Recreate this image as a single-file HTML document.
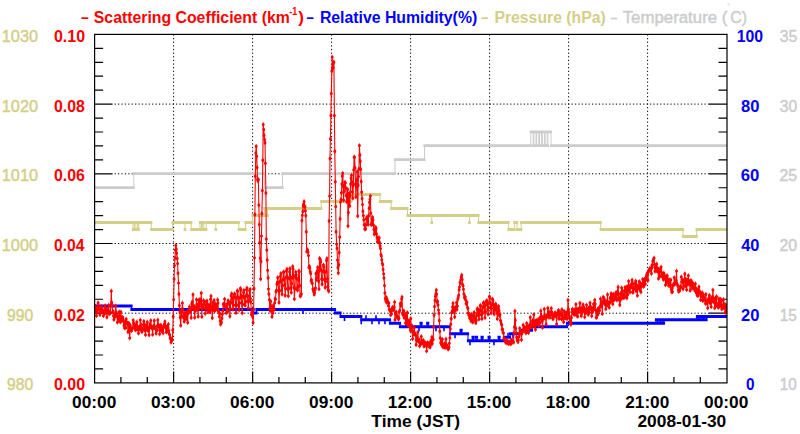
<!DOCTYPE html><html><head><meta charset="utf-8"><title>Scattering Coefficient</title><style>html,body{margin:0;padding:0;background:#fff;overflow:hidden}body{width:800px;height:434px}</style></head><body><svg width="800" height="434" viewBox="0 0 800 434" style="display:block">
<rect width="800" height="434" fill="#fff"/>
<path d="M173.60 34.4V382.9 M252.60 34.4V382.9 M331.60 34.4V382.9 M410.60 34.4V382.9 M489.60 34.4V382.9 M568.60 34.4V382.9 M647.60 34.4V382.9" stroke="#000" stroke-width="1" stroke-dasharray="1.25 2.38" fill="none"/>
<path d="M112.6 313.20H709.0 M112.6 243.50H709.0 M112.6 173.80H709.0 M112.6 104.10H709.0" stroke="#000" stroke-width="1" stroke-dasharray="1.25 2.16" stroke-dashoffset="-2" fill="none"/>
<path d="M120.93 382.9v-6 M147.27 382.9v-6 M173.60 382.9v-11.5 M199.93 382.9v-6 M226.27 382.9v-6 M252.60 382.9v-11.5 M278.93 382.9v-6 M305.27 382.9v-6 M331.60 382.9v-11.5 M357.93 382.9v-6 M384.27 382.9v-6 M410.60 382.9v-11.5 M436.93 382.9v-6 M463.27 382.9v-6 M489.60 382.9v-11.5 M515.93 382.9v-6 M542.27 382.9v-6 M568.60 382.9v-11.5 M594.93 382.9v-6 M621.27 382.9v-6 M647.60 382.9v-11.5 M673.93 382.9v-6 M700.27 382.9v-6 M94.6 368.96h8.5 M727.0 368.96h-8.5 M94.6 355.02h8.5 M727.0 355.02h-8.5 M94.6 341.08h8.5 M727.0 341.08h-8.5 M94.6 327.14h8.5 M727.0 327.14h-8.5 M94.6 313.20h18 M727.0 313.20h-18 M94.6 299.26h8.5 M727.0 299.26h-8.5 M94.6 285.32h8.5 M727.0 285.32h-8.5 M94.6 271.38h8.5 M727.0 271.38h-8.5 M94.6 257.44h8.5 M727.0 257.44h-8.5 M94.6 243.50h18 M727.0 243.50h-18 M94.6 229.56h8.5 M727.0 229.56h-8.5 M94.6 215.62h8.5 M727.0 215.62h-8.5 M94.6 201.68h8.5 M727.0 201.68h-8.5 M94.6 187.74h8.5 M727.0 187.74h-8.5 M94.6 173.80h18 M727.0 173.80h-18 M94.6 159.86h8.5 M727.0 159.86h-8.5 M94.6 145.92h8.5 M727.0 145.92h-8.5 M94.6 131.98h8.5 M727.0 131.98h-8.5 M94.6 118.04h8.5 M727.0 118.04h-8.5 M94.6 104.10h18 M727.0 104.10h-18 M94.6 90.16h8.5 M727.0 90.16h-8.5 M94.6 76.22h8.5 M727.0 76.22h-8.5 M94.6 62.28h8.5 M727.0 62.28h-8.5 M94.6 48.34h8.5 M727.0 48.34h-8.5" stroke="#000" stroke-width="1.2" fill="none"/>
<clipPath id="pc"><rect x="94.6" y="34.4" width="632.4" height="348.5"/></clipPath><g clip-path="url(#pc)"><path d="M94.00 187.54 L133.75 187.54 L133.75 173.60 L264.50 173.60 L264.50 187.54 L282.50 187.54 L282.50 173.60 L395.00 173.60 L395.00 159.66 L424.50 159.66 L424.50 145.72 L530.75 145.72 L530.75 131.78 L533.20 131.78 L533.20 145.72 L533.90 145.72 L533.90 131.78 L536.00 131.78 L536.00 145.72 L536.70 145.72 L536.70 131.78 L538.80 131.78 L538.80 145.72 L539.50 145.72 L539.50 131.78 L541.60 131.78 L541.60 145.72 L542.30 145.72 L542.30 131.78 L544.40 131.78 L544.40 145.72 L545.10 145.72 L545.10 131.78 L547.20 131.78 L547.20 145.72 L547.90 145.72 L547.90 131.78 L551.00 131.78 L551.00 145.72 L727.00 145.72" fill="none" stroke="#cccccc" stroke-width="1.0" stroke-linejoin="miter"/><path d="M92.90 187.54H134.85 M132.65 173.60H265.60 M263.40 187.54H283.60 M281.40 173.60H396.10 M393.90 159.66H425.60 M423.40 145.72H531.85 M529.65 131.78H534.30 M532.10 145.72H535.00 M532.80 131.78H537.10 M534.90 145.72H537.80 M535.60 131.78H539.90 M537.70 145.72H540.60 M538.40 131.78H542.70 M540.50 145.72H543.40 M541.20 131.78H545.50 M543.30 145.72H546.20 M544.00 131.78H548.30 M546.10 145.72H549.00 M546.80 131.78H552.10 M549.90 145.72H727.00" fill="none" stroke="#cccccc" stroke-width="2.8"/><path d="M94.00 222.49 L133.00 222.49 L133.00 229.46 L134.30 229.46 L134.30 222.49 L135.00 222.49 L135.00 229.46 L137.20 229.46 L137.20 222.49 L137.90 222.49 L137.90 229.46 L138.70 229.46 L138.70 222.49 L151.25 222.49 L151.25 229.46 L172.50 229.46 L172.50 222.49 L191.25 222.49 L191.25 229.46 L200.00 229.46 L200.00 222.49 L201.50 222.49 L201.50 229.46 L202.20 229.46 L202.20 222.49 L203.75 222.49 L203.75 229.46 L206.25 229.46 L206.25 222.49 L238.75 222.49 L238.75 229.46 L245.50 229.46 L245.50 222.49 L252.50 222.49 L252.50 215.52 L266.00 215.52 L266.00 208.55 L321.25 208.55 L321.25 201.58 L351.25 201.58 L351.25 194.61 L380.00 194.61 L380.00 201.58 L391.25 201.58 L391.25 208.55 L407.50 208.55 L407.50 215.52 L478.50 215.52 L478.50 222.49 L508.50 222.49 L508.50 229.46 L514.40 229.46 L514.40 222.49 L517.00 222.49 L517.00 229.46 L521.20 229.46 L521.20 222.49 L600.70 222.49 L600.70 229.46 L683.00 229.46 L683.00 236.43 L696.60 236.43 L696.60 229.46 L727.00 229.46" fill="none" stroke="#d4cf87" stroke-width="1.0" stroke-linejoin="miter"/><path d="M92.90 222.49H134.10 M131.90 229.46H135.40 M133.20 222.49H136.10 M133.90 229.46H138.30 M136.10 222.49H139.00 M136.80 229.46H139.80 M137.60 222.49H152.35 M150.15 229.46H173.60 M171.40 222.49H192.35 M190.15 229.46H201.10 M198.90 222.49H202.60 M200.40 229.46H203.30 M201.10 222.49H204.85 M202.65 229.46H207.35 M205.15 222.49H239.85 M237.65 229.46H246.60 M244.40 222.49H253.60 M251.40 215.52H267.10 M264.90 208.55H322.35 M320.15 201.58H352.35 M350.15 194.61H381.10 M378.90 201.58H392.35 M390.15 208.55H408.60 M406.40 215.52H479.60 M477.40 222.49H509.60 M507.40 229.46H515.50 M513.30 222.49H518.10 M515.90 229.46H522.30 M520.10 222.49H601.80 M599.60 229.46H684.10 M681.90 236.43H697.70 M695.50 229.46H727.00" fill="none" stroke="#d4cf87" stroke-width="3.0"/><path d="M185.00 222.49V230.46 M215.75 222.49V230.46 M431.75 215.52V223.49 M469.50 215.52V223.49 M264.50 215.52V209.55 M267.50 208.55V216.52" fill="none" stroke="#d4cf87" stroke-width="1"/><path d="M183.70 229.46h2.6 M214.45 229.46h2.6 M430.45 222.49h2.6 M468.20 222.49h2.6 M263.20 208.55h2.6 M266.20 215.52h2.6" fill="none" stroke="#d4cf87" stroke-width="3"/><path d="M94.00 305.93 L131.50 305.93 L131.50 309.41 L253.50 309.41 L253.50 312.90 L256.50 312.90 L256.50 309.41 L335.00 309.41 L335.00 312.90 L340.50 312.90 L340.50 316.38 L361.25 316.38 L361.25 319.87 L390.00 319.87 L390.00 323.35 L400.00 323.35 L400.00 326.84 L420.60 326.84 L420.60 323.35 L421.60 323.35 L421.60 326.84 L427.20 326.84 L427.20 323.35 L428.20 323.35 L428.20 326.84 L450.00 326.84 L450.00 333.81 L460.60 333.81 L460.60 330.32 L461.60 330.32 L461.60 333.81 L468.00 333.81 L468.00 340.78 L472.60 340.78 L472.60 337.29 L473.60 337.29 L473.60 340.78 L476.00 340.78 L476.00 337.29 L477.00 337.29 L477.00 340.78 L481.60 340.78 L481.60 337.29 L482.60 337.29 L482.60 340.78 L488.60 340.78 L488.60 337.29 L489.60 337.29 L489.60 340.78 L498.60 340.78 L498.60 337.29 L499.60 337.29 L499.60 340.78 L504.00 340.78 L504.00 337.29 L510.00 337.29 L510.00 333.81 L520.00 333.81 L520.00 330.32 L532.00 330.32 L532.00 326.84 L567.00 326.84 L567.00 323.35 L656.00 323.35 L656.00 319.87 L657.50 319.87 L657.50 323.35 L659.00 323.35 L659.00 319.87 L660.50 319.87 L660.50 323.35 L662.00 323.35 L662.00 319.87 L663.00 319.87 L663.00 323.35 L664.00 323.35 L664.00 319.87 L697.00 319.87 L697.00 316.38 L698.50 316.38 L698.50 319.87 L700.00 319.87 L700.00 316.38 L702.00 316.38 L702.00 319.87 L703.50 319.87 L703.50 316.38 L705.00 316.38 L705.00 319.87 L706.50 319.87 L706.50 316.38 L727.00 316.38" fill="none" stroke="#0000ff" stroke-width="1.0" stroke-linejoin="miter"/><path d="M92.90 305.93H132.60 M130.40 309.41H254.60 M252.40 312.90H257.60 M255.40 309.41H336.10 M333.90 312.90H341.60 M339.40 316.38H362.35 M360.15 319.87H391.10 M388.90 323.35H401.10 M398.90 326.84H421.70 M419.50 323.35H422.70 M420.50 326.84H428.30 M426.10 323.35H429.30 M427.10 326.84H451.10 M448.90 333.81H461.70 M459.50 330.32H462.70 M460.50 333.81H469.10 M466.90 340.78H473.70 M471.50 337.29H474.70 M472.50 340.78H477.10 M474.90 337.29H478.10 M475.90 340.78H482.70 M480.50 337.29H483.70 M481.50 340.78H489.70 M487.50 337.29H490.70 M488.50 340.78H499.70 M497.50 337.29H500.70 M498.50 340.78H505.10 M502.90 337.29H511.10 M508.90 333.81H521.10 M518.90 330.32H533.10 M530.90 326.84H568.10 M565.90 323.35H657.10 M654.90 319.87H658.60 M656.40 323.35H660.10 M657.90 319.87H661.60 M659.40 323.35H663.10 M660.90 319.87H664.10 M661.90 323.35H665.10 M662.90 319.87H698.10 M695.90 316.38H699.60 M697.40 319.87H701.10 M698.90 316.38H703.10 M700.90 319.87H704.60 M702.40 316.38H706.10 M703.90 319.87H707.60 M705.40 316.38H727.00" fill="none" stroke="#0000ff" stroke-width="3.0"/><path d="M303.00 309.41v4.5 M344.50 316.38v4.5 M361.25 319.87v4.5 M385.00 319.87v4.5 M419.00 326.84v4.5 M436.00 326.84v4.5 M455.00 333.81v4.5 M366.00 319.87v-4.5 M372.00 319.87v4.5 M376.00 319.87v-4.5 M379.00 319.87v4.5 M406.00 326.84v-4.5 M412.00 326.84v4.5 M444.00 326.84v4.5 M470.00 340.78v4.5 M494.00 340.78v4.5 M508.00 337.29v-4.5 M513.00 333.81v4.5" fill="none" stroke="#0000ff" stroke-width="1.6"/><path d="M94.6 305.5 95.0 307.0 95.5 309.1 95.9 310.2 96.4 315.7 96.8 307.2 97.2 312.5 97.7 308.3 98.1 302.7 98.6 309.5 99.0 307.1 99.4 308.8 99.9 314.7 100.3 312.7 100.7 311.0 101.2 309.5 101.6 306.3 102.1 308.4 102.5 310.0 102.9 311.2 103.4 315.7 103.8 312.0 104.3 311.2 104.7 313.4 105.1 305.7 105.6 308.0 106.0 312.6 106.5 310.7 106.9 317.3 107.3 311.4 107.8 309.5 108.2 311.6 108.7 305.2 109.1 314.1 109.5 312.1 110.0 312.4 110.4 313.0 110.8 305.3 111.3 291.0 111.7 302.4 112.2 305.5 112.6 311.9 113.0 311.2 113.5 316.1 113.9 319.6 114.4 316.9 114.8 317.1 115.2 313.8 115.7 306.1 116.1 312.1 116.6 313.4 117.0 316.0 117.4 322.2 117.9 316.4 118.3 318.0 118.8 319.5 119.2 311.8 119.6 315.6 120.1 321.5 120.5 322.0 120.9 312.0 121.4 320.7 121.8 317.4 122.3 318.5 122.7 317.3 123.1 319.4 123.6 321.5 124.0 325.6 124.5 327.9 124.9 322.8 125.3 321.5 125.8 327.8 126.2 319.1 126.7 322.2 127.1 323.5 127.5 323.1 128.0 331.9 128.4 323.5 128.9 323.1 129.3 330.4 129.7 338.0 130.2 325.2 130.6 327.8 131.1 328.0 131.5 330.8 131.9 329.6 132.4 328.3 132.8 327.9 133.2 320.3 133.7 322.9 134.1 324.8 134.6 327.8 135.0 326.1 135.4 330.0 135.9 325.6 136.3 324.6 136.8 321.9 137.2 329.5 137.6 326.6 138.1 328.9 138.5 333.3 139.0 328.9 139.4 326.7 139.8 329.0 140.3 320.0 140.7 326.3 141.2 330.3 141.6 324.8 142.0 331.7 142.5 329.4 142.9 329.6 143.3 328.4 143.8 321.3 144.2 323.9 144.7 328.5 145.1 330.6 145.5 334.8 146.0 325.4 146.4 326.0 146.9 328.1 147.3 322.0 147.7 330.4 148.2 327.2 148.6 330.4 149.1 335.0 149.5 327.7 149.9 324.1 150.4 325.2 150.8 320.5 151.3 327.3 151.7 327.9 152.1 327.6 152.6 334.5 153.0 327.9 153.4 325.9 153.9 327.6 154.3 320.6 154.8 327.1 155.2 327.5 155.6 328.9 156.1 333.5 156.5 330.7 157.0 330.2 157.4 325.8 157.8 319.9 158.3 324.9 158.7 327.1 159.2 325.6 159.6 334.0 160.0 330.3 160.5 329.0 160.9 324.9 161.4 330.8 161.8 330.7 162.2 327.4 162.7 329.9 163.1 333.1 163.5 326.4 164.0 326.3 164.4 324.0 164.9 321.6 165.3 326.4 165.7 327.9 166.2 331.9 166.6 331.9 167.1 326.1 167.5 331.2 167.9 327.3 168.4 324.3 168.8 330.6 169.3 334.0 169.7 334.7 170.1 338.1 170.6 338.9 171.0 342.2 171.5 341.2 171.9 338.7 172.3 339.7 172.8 330.1 173.2 316.6 173.6 299.6 174.1 279.1 174.5 265.6 175.0 258.0 175.4 250.1 175.8 245.3 176.3 249.3 176.7 253.3 177.2 258.4 177.6 263.4 178.0 273.3 178.5 282.9 178.9 293.9 179.4 305.6 179.8 311.7 180.2 317.4 180.7 325.4 181.1 315.5 181.6 312.1 182.0 309.6 182.4 302.9 182.9 309.9 183.3 317.6 183.8 315.6 184.2 321.4 184.6 313.1 185.1 312.9 185.5 318.8 185.9 314.0 186.4 318.7 186.8 311.7 187.3 311.9 187.7 322.6 188.1 313.2 188.6 310.5 189.0 312.0 189.5 306.7 189.9 310.0 190.3 311.0 190.8 309.4 191.2 317.7 191.7 304.0 192.1 302.0 192.5 307.6 193.0 294.5 193.4 307.5 193.9 309.6 194.3 306.3 194.7 317.5 195.2 309.7 195.6 310.5 196.0 308.2 196.5 299.6 196.9 304.4 197.4 309.8 197.8 307.5 198.2 316.5 198.7 300.3 199.1 308.8 199.6 306.4 200.0 299.3 200.4 303.2 200.9 301.5 201.3 293.0 201.8 316.8 202.2 304.9 202.6 308.0 203.1 307.4 203.5 300.4 204.0 303.9 204.4 304.5 204.8 301.6 205.3 313.5 205.7 308.6 206.1 304.7 206.6 306.5 207.0 300.8 207.5 304.0 207.9 311.4 208.3 306.7 208.8 311.9 209.2 305.0 209.7 311.8 210.1 308.2 210.5 299.2 211.0 296.0 211.4 307.6 211.9 309.5 212.3 317.9 212.7 302.7 213.2 307.4 213.6 305.5 214.1 300.2 214.5 310.9 214.9 310.0 215.4 303.7 215.8 309.6 216.2 305.4 216.7 306.4 217.1 308.4 217.6 299.7 218.0 303.0 218.4 310.9 218.9 311.9 219.3 316.5 219.8 313.5 220.2 321.1 220.6 324.3 221.1 322.0 221.5 322.4 222.0 318.2 222.4 314.3 222.8 310.9 223.3 304.0 223.7 304.5 224.2 306.3 224.6 299.1 225.0 305.3 225.5 305.5 225.9 306.2 226.3 312.9 226.8 310.7 227.2 304.1 227.7 311.4 228.1 300.6 228.5 302.4 229.0 302.3 229.4 303.8 229.9 316.3 230.3 308.5 230.7 302.2 231.2 295.7 231.6 293.6 232.1 299.0 232.5 303.3 232.9 309.2 233.4 304.9 233.8 297.3 234.3 294.4 234.7 293.7 235.1 297.1 235.6 304.9 236.0 312.7 236.5 304.5 236.9 298.1 237.3 290.8 237.8 290.9 238.2 297.6 238.6 306.0 239.1 310.0 239.5 303.3 240.0 297.8 240.4 288.3 240.8 289.7 241.3 296.3 241.7 302.4 242.2 313.0 242.6 304.6 243.0 296.6 243.5 292.2 243.9 290.2 244.4 297.7 244.8 303.8 245.2 305.4 245.7 301.8 246.1 295.7 246.6 289.4 247.0 287.9 247.4 295.8 247.9 301.0 248.3 308.1 248.7 301.0 249.2 296.1 249.6 290.6 250.1 289.2 250.5 298.6 250.9 302.1 251.4 314.5 251.8 312.6 252.3 313.9 252.7 317.1 253.1 322.8 253.6 309.3 254.0 288.6 254.5 257.7 254.9 214.6 255.3 176.3 255.8 153.1 256.2 146.2 256.7 156.2 257.1 167.4 257.5 179.4 258.0 181.1 258.4 179.5 258.8 204.9 259.3 224.6 259.7 242.5 260.2 258.3 260.6 279.0 261.0 261.2 261.5 235.9 261.9 213.5 262.4 190.6 262.8 160.2 263.2 124.5 263.7 129.6 264.1 135.3 264.6 139.5 265.0 142.7 265.4 163.3 265.9 193.0 266.3 238.9 266.8 249.9 267.2 260.0 267.6 270.2 268.1 277.7 268.5 289.0 268.9 294.1 269.4 299.8 269.8 308.2 270.3 311.0 270.7 301.2 271.1 306.6 271.6 306.6 272.0 316.7 272.5 310.5 272.9 313.1 273.3 305.4 273.8 308.0 274.2 309.5 274.7 302.7 275.1 298.4 275.5 299.3 276.0 291.5 276.4 290.6 276.9 284.1 277.3 282.3 277.7 277.5 278.2 283.1 278.6 290.3 279.0 302.5 279.5 290.9 279.9 281.4 280.4 276.3 280.8 273.4 281.2 281.4 281.7 290.1 282.1 294.3 282.6 285.8 283.0 279.4 283.4 272.1 283.9 272.0 284.3 279.7 284.8 284.5 285.2 295.5 285.6 288.4 286.1 277.2 286.5 270.8 287.0 269.0 287.4 277.1 287.8 288.9 288.3 296.1 288.7 288.6 289.2 278.6 289.6 271.7 290.0 268.4 290.5 276.8 290.9 287.9 291.3 292.4 291.8 283.4 292.2 277.9 292.7 266.5 293.1 268.9 293.5 275.2 294.0 287.2 294.4 298.9 294.9 288.7 295.3 277.2 295.7 272.0 296.2 274.8 296.6 278.0 297.1 288.5 297.5 290.3 297.9 287.1 298.4 279.9 298.8 270.9 299.3 271.5 299.7 285.4 300.1 296.0 300.6 295.9 301.0 294.9 301.4 294.0 301.9 220.4 302.3 215.3 302.8 211.4 303.2 205.7 303.6 203.9 304.1 201.4 304.5 206.6 305.0 206.4 305.4 210.8 305.8 215.6 306.3 231.8 306.7 251.4 307.2 250.4 307.6 249.8 308.0 251.9 308.5 255.5 308.9 267.5 309.4 266.3 309.8 267.9 310.2 271.6 310.7 273.6 311.1 280.8 311.5 279.8 312.0 282.9 312.4 283.2 312.9 289.0 313.3 290.4 313.7 291.7 314.2 294.4 314.6 292.7 315.1 289.5 315.5 288.1 315.9 273.4 316.4 279.6 316.8 277.7 317.3 270.8 317.7 267.3 318.1 271.9 318.6 281.3 319.0 289.0 319.5 258.4 319.9 269.7 320.3 259.4 320.8 261.4 321.2 270.2 321.6 279.1 322.1 284.2 322.5 279.2 323.0 271.4 323.4 265.0 323.8 267.0 324.3 271.4 324.7 279.8 325.2 287.6 325.6 281.4 326.0 271.8 326.5 260.4 326.9 258.4 327.4 278.7 327.8 286.5 328.2 290.0 328.7 291.3 329.1 221.0 329.6 195.9 330.0 158.6 330.4 138.7 330.9 115.5 331.3 93.4 331.8 71.1 332.2 57.0 332.6 68.7 333.1 67.6 333.5 62.9 333.9 62.0 334.4 115.5 334.8 151.3 335.3 181.7 335.7 206.5 336.1 231.8 336.6 244.1 337.0 248.2 337.5 260.0 337.9 267.5 338.3 273.0 338.8 264.8 339.2 252.5 339.7 237.1 340.1 218.8 340.5 202.1 341.0 199.6 341.4 192.8 341.9 184.1 342.3 175.9 342.7 173.3 343.2 186.2 343.6 200.3 344.0 191.3 344.5 185.2 344.9 182.2 345.4 182.8 345.8 188.1 346.2 195.4 346.7 201.8 347.1 196.3 347.6 189.2 348.0 226.0 348.4 212.4 348.9 194.3 349.3 192.9 349.8 205.9 350.2 195.5 350.6 184.0 351.1 178.3 351.5 175.3 352.0 182.3 352.4 191.7 352.8 198.2 353.3 185.2 353.7 169.7 354.1 156.9 354.6 157.3 355.0 167.8 355.5 183.7 355.9 196.9 356.3 186.8 356.8 179.8 357.2 171.4 357.7 216.0 358.1 185.3 358.5 176.6 359.0 168.7 359.4 145.6 359.9 155.1 360.3 161.2 360.7 169.3 361.2 181.5 361.6 191.9 362.1 198.6 362.5 204.6 362.9 211.3 363.4 215.6 363.8 219.7 364.2 224.8 364.7 229.1 365.1 228.4 365.6 228.9 366.0 224.7 366.4 218.6 366.9 217.0 367.3 218.4 367.8 221.8 368.2 224.4 368.6 215.8 369.1 208.2 369.5 202.3 370.0 199.3 370.4 196.0 370.8 213.2 371.3 224.8 371.7 223.0 372.2 219.1 372.6 217.2 373.0 219.9 373.5 225.1 373.9 229.5 374.3 234.2 374.8 232.9 375.2 230.1 375.7 227.3 376.1 228.6 376.5 233.7 377.0 237.3 377.4 241.7 377.9 239.6 378.3 238.0 378.7 242.4 379.2 237.7 379.6 242.4 380.1 246.1 380.5 248.5 380.9 254.6 381.4 256.0 381.8 259.7 382.3 263.5 382.7 264.4 383.1 269.6 383.6 273.7 384.0 277.9 384.5 285.4 384.9 293.1 385.3 298.6 385.8 300.9 386.2 297.3 386.6 302.3 387.1 299.2 387.5 301.5 388.0 302.0 388.4 305.8 388.8 303.1 389.3 309.6 389.7 310.2 390.2 310.7 390.6 314.9 391.0 311.9 391.5 313.9 391.9 308.9 392.4 307.4 392.8 309.9 393.2 309.3 393.7 309.4 394.1 306.9 394.6 302.0 395.0 319.8 395.4 312.9 395.9 314.6 396.3 311.9 396.7 316.9 397.2 316.7 397.6 316.4 398.1 316.9 398.5 319.3 398.9 318.3 399.4 311.4 399.8 310.4 400.3 303.4 400.7 305.9 401.1 304.0 401.6 299.0 402.0 297.0 402.5 313.2 402.9 314.8 403.3 314.3 403.8 310.8 404.2 317.7 404.7 314.5 405.1 314.1 405.5 322.9 406.0 315.7 406.4 319.5 406.8 323.4 407.3 312.5 407.7 322.4 408.2 325.6 408.6 322.8 409.0 320.6 409.5 326.2 409.9 326.8 410.4 330.3 410.8 318.4 411.2 328.1 411.7 325.3 412.1 330.9 412.6 338.8 413.0 331.3 413.4 334.4 413.9 332.6 414.3 327.5 414.8 333.2 415.2 334.8 415.6 334.7 416.1 344.8 416.5 339.7 416.9 336.9 417.4 339.4 417.8 332.3 418.3 341.4 418.7 340.7 419.1 339.5 419.6 346.1 420.0 342.8 420.5 344.2 420.9 343.2 421.3 336.5 421.8 343.4 422.2 341.0 422.7 342.9 423.1 340.7 423.5 340.5 424.0 346.3 424.4 343.1 424.9 345.8 425.3 342.8 425.7 344.0 426.2 344.2 426.6 351.0 427.0 345.4 427.5 342.6 427.9 345.1 428.4 344.1 428.8 343.6 429.2 346.6 429.7 343.8 430.1 347.2 430.6 341.9 431.0 340.6 431.4 344.3 431.9 336.9 432.3 343.6 432.8 339.7 433.2 339.4 433.6 326.9 434.1 315.1 434.5 306.5 435.0 300.3 435.4 296.2 435.8 293.8 436.3 290.0 436.7 294.1 437.1 302.3 437.6 301.3 438.0 305.1 438.5 310.1 438.9 313.2 439.3 320.5 439.8 331.2 440.2 338.0 440.7 342.7 441.1 341.8 441.5 344.8 442.0 345.1 442.4 339.3 442.9 346.9 443.3 346.2 443.7 345.0 444.2 346.8 444.6 343.5 445.1 347.8 445.5 346.6 445.9 339.0 446.4 344.7 446.8 345.0 447.3 347.1 447.7 348.6 448.1 348.6 448.6 349.0 449.0 347.2 449.4 343.2 449.9 337.8 450.3 328.8 450.8 324.2 451.2 318.8 451.6 312.8 452.1 311.2 452.5 307.1 453.0 303.2 453.4 309.6 453.8 312.0 454.3 307.8 454.7 317.0 455.2 309.6 455.6 310.0 456.0 307.0 456.5 302.5 456.9 309.5 457.4 305.9 457.8 299.1 458.2 297.6 458.7 295.2 459.1 289.8 459.5 287.1 460.0 282.3 460.4 283.0 460.9 279.5 461.3 277.1 461.7 275.0 462.2 279.5 462.6 284.7 463.1 285.7 463.5 289.2 463.9 294.0 464.4 297.6 464.8 298.3 465.3 296.7 465.7 299.7 466.1 303.5 466.6 304.1 467.0 302.3 467.5 307.4 467.9 308.4 468.3 312.9 468.8 314.9 469.2 314.3 469.6 317.9 470.1 316.3 470.5 318.8 471.0 321.1 471.4 314.3 471.8 316.1 472.3 321.2 472.7 322.2 473.2 319.2 473.6 316.0 474.0 312.5 474.5 312.9 474.9 317.7 475.4 321.1 475.8 322.9 476.2 320.5 476.7 315.6 477.1 309.2 477.6 308.6 478.0 312.1 478.4 314.9 478.9 319.3 479.3 314.9 479.7 310.6 480.2 305.6 480.6 305.6 481.1 310.8 481.5 314.4 481.9 318.8 482.4 313.5 482.8 307.6 483.3 303.1 483.7 302.6 484.1 306.8 484.6 311.2 485.0 317.7 485.5 311.8 485.9 304.8 486.3 301.3 486.8 300.4 487.2 303.6 487.7 309.3 488.1 314.2 488.5 307.9 489.0 303.0 489.4 296.5 489.9 297.6 490.3 303.0 490.7 307.4 491.2 313.0 491.6 308.6 492.0 305.0 492.5 299.1 492.9 300.4 493.4 304.4 493.8 311.0 494.2 314.0 494.7 309.9 495.1 306.3 495.6 303.9 496.0 304.7 496.4 308.1 496.9 312.2 497.3 318.8 497.8 313.8 498.2 308.5 498.6 306.2 499.1 310.7 499.5 315.8 500.0 314.5 500.4 320.5 500.8 321.3 501.3 323.7 501.7 324.9 502.1 329.4 502.6 329.3 503.0 332.4 503.5 333.1 503.9 338.3 504.3 339.3 504.8 340.3 505.2 339.9 505.7 342.6 506.1 341.0 506.5 341.5 507.0 343.0 507.4 341.1 507.9 341.2 508.3 343.4 508.7 343.3 509.2 343.1 509.6 341.9 510.1 343.2 510.5 341.4 510.9 344.0 511.4 340.1 511.8 341.4 512.2 340.1 512.7 342.1 513.1 341.5 513.6 342.3 514.0 332.7 514.4 326.9 514.9 311.0 515.3 320.3 515.8 328.5 516.2 333.1 516.6 337.3 517.1 339.7 517.5 340.8 518.0 341.9 518.4 340.1 518.8 336.8 519.3 333.9 519.7 328.3 520.2 330.7 520.6 333.0 521.0 333.2 521.5 339.7 521.9 333.5 522.3 331.8 522.8 330.8 523.2 324.9 523.7 330.5 524.1 330.9 524.5 328.6 525.0 327.3 525.4 329.1 525.9 333.1 526.3 330.9 526.7 323.3 527.2 327.5 527.6 326.7 528.1 329.4 528.5 332.8 528.9 328.8 529.4 325.0 529.8 327.6 530.3 317.2 530.7 325.7 531.1 327.4 531.6 324.8 532.0 326.6 532.4 321.3 532.9 320.0 533.3 324.7 533.8 314.6 534.2 322.8 534.6 326.4 535.1 321.9 535.5 329.5 536.0 320.6 536.4 322.6 536.8 320.4 537.3 324.6 537.7 320.9 538.2 319.4 538.6 321.5 539.0 325.7 539.5 318.8 539.9 323.0 540.4 317.3 540.8 310.7 541.2 315.5 541.7 319.0 542.1 321.0 542.5 327.4 543.0 318.3 543.4 317.0 543.9 318.4 544.3 309.0 544.7 317.4 545.2 315.9 545.6 317.1 546.1 324.3 546.5 316.0 546.9 316.8 547.4 314.4 547.8 307.9 548.3 313.7 548.7 317.2 549.1 311.7 549.6 315.6 550.0 317.5 550.5 313.5 550.9 312.6 551.3 308.2 551.8 312.0 552.2 315.2 552.7 318.2 553.1 318.9 553.5 316.9 554.0 316.3 554.4 313.4 554.8 315.6 555.3 312.7 555.7 315.6 556.2 316.4 556.6 324.1 557.0 314.7 557.5 312.7 557.9 312.3 558.4 310.3 558.8 318.5 559.2 318.4 559.7 311.8 560.1 314.5 560.6 314.6 561.0 313.8 561.4 319.0 561.9 309.4 562.3 314.4 562.8 318.4 563.2 318.8 563.6 322.0 564.1 311.3 564.5 317.5 564.9 317.7 565.4 313.1 565.8 317.9 566.3 317.6 566.7 313.4 567.1 318.9 567.6 311.2 568.0 300.0 568.5 309.2 568.9 312.5 569.3 316.1 569.8 318.0 570.2 320.9 570.7 324.1 571.1 324.3 571.5 317.7 572.0 311.8 572.4 308.9 572.9 311.6 573.3 314.1 573.7 310.9 574.2 309.8 574.6 314.7 575.0 309.8 575.5 313.7 575.9 304.3 576.4 315.1 576.8 309.8 577.2 309.0 577.7 316.4 578.1 312.0 578.6 309.4 579.0 309.1 579.4 308.3 579.9 303.0 580.3 309.0 580.8 312.1 581.2 316.0 581.6 307.9 582.1 313.3 582.5 311.8 583.0 304.5 583.4 310.5 583.8 307.4 584.3 308.4 584.7 317.0 585.1 309.6 585.6 312.2 586.0 312.7 586.5 305.1 586.9 311.3 587.3 308.9 587.8 311.0 588.2 314.6 588.7 308.7 589.1 307.4 589.5 312.5 590.0 302.8 590.4 306.4 590.9 307.8 591.3 309.4 591.7 316.1 592.2 308.3 592.6 311.7 593.1 309.4 593.5 304.0 593.9 307.7 594.4 308.7 594.8 300.0 595.2 304.1 595.7 310.3 596.1 317.4 596.6 317.4 597.0 310.2 597.4 312.4 597.9 314.6 598.3 308.2 598.8 309.5 599.2 310.5 599.6 310.6 600.1 306.5 600.5 298.7 601.0 306.4 601.4 302.7 601.8 301.7 602.3 313.7 602.7 303.0 603.2 297.0 603.6 302.7 604.0 298.2 604.5 301.6 604.9 300.7 605.4 305.0 605.8 309.0 606.2 302.4 606.7 301.2 607.1 305.5 607.5 294.5 608.0 304.2 608.4 303.4 608.9 302.3 609.3 307.4 609.7 303.0 610.2 298.1 610.6 297.2 611.1 293.4 611.5 300.9 611.9 295.6 612.4 298.5 612.8 304.0 613.3 294.1 613.7 300.2 614.1 299.7 614.6 298.1 615.0 297.2 615.5 294.4 615.9 292.6 616.3 297.9 616.8 300.1 617.2 294.0 617.6 291.2 618.1 287.0 618.5 294.3 619.0 297.5 619.4 300.0 619.8 305.0 620.3 300.1 620.7 293.1 621.2 293.9 621.6 287.8 622.0 297.9 622.5 290.5 622.9 295.5 623.4 295.9 623.8 297.9 624.2 293.5 624.7 291.3 625.1 287.3 625.6 289.4 626.0 296.8 626.4 287.6 626.9 298.1 627.3 286.5 627.7 294.7 628.2 290.1 628.6 281.3 629.1 289.1 629.5 288.9 629.9 292.3 630.4 285.3 630.8 287.6 631.3 286.5 631.7 283.8 632.1 280.0 632.6 291.8 633.0 292.4 633.5 288.9 633.9 283.5 634.3 288.7 634.8 288.2 635.2 287.4 635.7 280.9 636.1 291.0 636.5 284.5 637.0 286.9 637.4 295.4 637.8 288.0 638.3 287.5 638.7 286.2 639.2 281.5 639.6 287.5 640.0 290.1 640.5 283.0 640.9 291.9 641.4 286.1 641.8 285.8 642.2 284.9 642.7 279.3 643.1 280.2 643.6 286.6 644.0 284.8 644.4 279.3 644.9 284.0 645.3 284.0 645.8 277.4 646.2 279.4 646.6 275.0 647.1 273.3 647.5 274.6 648.0 280.3 648.4 271.2 648.8 270.5 649.3 270.4 649.7 268.4 650.1 270.3 650.6 269.0 651.0 268.7 651.5 273.6 651.9 265.2 652.3 267.2 652.8 261.2 653.2 259.7 653.7 259.2 654.1 258.0 654.5 264.6 655.0 271.3 655.4 267.8 655.9 265.1 656.3 270.5 656.7 263.9 657.2 271.1 657.6 268.2 658.1 271.4 658.5 278.5 658.9 269.1 659.4 270.6 659.8 276.4 660.2 270.3 660.7 269.7 661.1 267.0 661.6 272.6 662.0 274.7 662.4 276.7 662.9 275.1 663.3 279.5 663.8 273.0 664.2 276.5 664.6 278.5 665.1 277.3 665.5 284.9 666.0 275.7 666.4 283.1 666.8 277.6 667.3 275.7 667.7 281.2 668.2 282.2 668.6 285.4 669.0 279.4 669.5 285.1 669.9 285.7 670.3 285.2 670.8 279.8 671.2 289.3 671.7 292.0 672.1 287.9 672.5 291.7 673.0 284.7 673.4 285.0 673.9 284.3 674.3 277.6 674.7 284.3 675.2 283.3 675.6 282.4 676.1 280.5 676.5 271.0 676.9 283.2 677.4 284.5 677.8 285.9 678.3 290.1 678.7 291.6 679.1 289.8 679.6 290.7 680.0 288.2 680.4 286.3 680.9 287.0 681.3 276.8 681.8 281.7 682.2 279.4 682.6 281.4 683.1 289.0 683.5 280.6 684.0 286.2 684.4 280.4 684.8 273.7 685.3 279.2 685.7 286.0 686.2 279.5 686.6 289.7 687.0 283.6 687.5 279.9 687.9 284.4 688.4 275.6 688.8 280.7 689.2 281.6 689.7 283.9 690.1 290.4 690.5 281.9 691.0 280.4 691.4 285.7 691.9 281.9 692.3 288.2 692.7 283.3 693.2 284.3 693.6 284.4 694.1 287.7 694.5 289.5 694.9 290.5 695.4 283.8 695.8 288.2 696.3 292.7 696.7 289.6 697.1 295.2 697.6 290.3 698.0 295.7 698.5 289.3 698.9 286.8 699.3 292.8 699.8 292.4 700.2 291.9 700.6 299.7 701.1 295.8 701.5 294.0 702.0 295.8 702.4 292.7 702.8 300.8 703.3 294.9 703.7 296.9 704.2 299.3 704.6 298.6 705.0 300.0 705.5 303.6 705.9 294.2 706.4 301.8 706.8 303.3 707.2 301.0 707.7 307.9 708.1 301.2 708.6 298.4 709.0 299.6 709.4 295.2 709.9 300.8 710.3 303.2 710.8 300.0 711.2 306.7 711.6 297.6 712.1 301.4 712.5 297.7 712.9 290.0 713.4 297.7 713.8 298.9 714.3 302.5 714.7 308.0 715.1 302.6 715.6 298.0 716.0 305.3 716.5 296.4 716.9 305.5 717.3 305.2 717.8 303.9 718.2 307.6 718.7 298.8 719.1 306.1 719.5 306.0 720.0 299.0 720.4 305.7 720.9 299.5 721.3 301.3 721.7 309.0 722.2 308.3 722.6 307.7 723.0 304.9 723.5 299.5 723.9 307.3 724.4 308.1 724.8 304.1 725.2 312.7 725.7 306.7 726.1 311.0 726.6 309.9 727.0 305.3" fill="none" stroke="#ff0000" stroke-width="1.1" stroke-linejoin="round"/><path d="M94.6 303.2v4.6 M95.0 304.7v4.6 M95.5 306.8v4.6 M95.9 307.9v4.6 M96.4 313.4v4.6 M96.8 304.9v4.6 M97.2 310.2v4.6 M97.7 306.0v4.6 M98.1 300.4v4.6 M98.6 307.2v4.6 M99.0 304.8v4.6 M99.4 306.5v4.6 M99.9 312.4v4.6 M100.3 310.4v4.6 M100.7 308.7v4.6 M101.2 307.2v4.6 M101.6 304.0v4.6 M102.1 306.1v4.6 M102.5 307.7v4.6 M102.9 308.9v4.6 M103.4 313.4v4.6 M103.8 309.7v4.6 M104.3 308.9v4.6 M104.7 311.1v4.6 M105.1 303.4v4.6 M105.6 305.7v4.6 M106.0 310.3v4.6 M106.5 308.4v4.6 M106.9 315.0v4.6 M107.3 309.1v4.6 M107.8 307.2v4.6 M108.2 309.3v4.6 M108.7 302.9v4.6 M109.1 311.8v4.6 M109.5 309.8v4.6 M110.0 310.1v4.6 M110.4 310.7v4.6 M110.8 303.0v4.6 M111.3 288.7v4.6 M111.7 300.1v4.6 M112.2 303.2v4.6 M112.6 309.6v4.6 M113.0 308.9v4.6 M113.5 313.8v4.6 M113.9 317.3v4.6 M114.4 314.6v4.6 M114.8 314.8v4.6 M115.2 311.5v4.6 M115.7 303.8v4.6 M116.1 309.8v4.6 M116.6 311.1v4.6 M117.0 313.7v4.6 M117.4 319.9v4.6 M117.9 314.1v4.6 M118.3 315.7v4.6 M118.8 317.2v4.6 M119.2 309.5v4.6 M119.6 313.3v4.6 M120.1 319.2v4.6 M120.5 319.7v4.6 M120.9 309.7v4.6 M121.4 318.4v4.6 M121.8 315.1v4.6 M122.3 316.2v4.6 M122.7 315.0v4.6 M123.1 317.1v4.6 M123.6 319.2v4.6 M124.0 323.3v4.6 M124.5 325.6v4.6 M124.9 320.5v4.6 M125.3 319.2v4.6 M125.8 325.5v4.6 M126.2 316.8v4.6 M126.7 319.9v4.6 M127.1 321.2v4.6 M127.5 320.8v4.6 M128.0 329.6v4.6 M128.4 321.2v4.6 M128.9 320.8v4.6 M129.3 328.1v4.6 M129.7 335.7v4.6 M130.2 322.9v4.6 M130.6 325.5v4.6 M131.1 325.7v4.6 M131.5 328.5v4.6 M131.9 327.3v4.6 M132.4 326.0v4.6 M132.8 325.6v4.6 M133.2 318.0v4.6 M133.7 320.6v4.6 M134.1 322.5v4.6 M134.6 325.5v4.6 M135.0 323.8v4.6 M135.4 327.7v4.6 M135.9 323.3v4.6 M136.3 322.3v4.6 M136.8 319.6v4.6 M137.2 327.2v4.6 M137.6 324.3v4.6 M138.1 326.6v4.6 M138.5 331.0v4.6 M139.0 326.6v4.6 M139.4 324.4v4.6 M139.8 326.7v4.6 M140.3 317.7v4.6 M140.7 324.0v4.6 M141.2 328.0v4.6 M141.6 322.5v4.6 M142.0 329.4v4.6 M142.5 327.1v4.6 M142.9 327.3v4.6 M143.3 326.1v4.6 M143.8 319.0v4.6 M144.2 321.6v4.6 M144.7 326.2v4.6 M145.1 328.3v4.6 M145.5 332.5v4.6 M146.0 323.1v4.6 M146.4 323.7v4.6 M146.9 325.8v4.6 M147.3 319.7v4.6 M147.7 328.1v4.6 M148.2 324.9v4.6 M148.6 328.1v4.6 M149.1 332.7v4.6 M149.5 325.4v4.6 M149.9 321.8v4.6 M150.4 322.9v4.6 M150.8 318.2v4.6 M151.3 325.0v4.6 M151.7 325.6v4.6 M152.1 325.3v4.6 M152.6 332.2v4.6 M153.0 325.6v4.6 M153.4 323.6v4.6 M153.9 325.3v4.6 M154.3 318.3v4.6 M154.8 324.8v4.6 M155.2 325.2v4.6 M155.6 326.6v4.6 M156.1 331.2v4.6 M156.5 328.4v4.6 M157.0 327.9v4.6 M157.4 323.5v4.6 M157.8 317.6v4.6 M158.3 322.6v4.6 M158.7 324.8v4.6 M159.2 323.3v4.6 M159.6 331.7v4.6 M160.0 328.0v4.6 M160.5 326.7v4.6 M160.9 322.6v4.6 M161.4 328.5v4.6 M161.8 328.4v4.6 M162.2 325.1v4.6 M162.7 327.6v4.6 M163.1 330.8v4.6 M163.5 324.1v4.6 M164.0 324.0v4.6 M164.4 321.7v4.6 M164.9 319.3v4.6 M165.3 324.1v4.6 M165.7 325.6v4.6 M166.2 329.6v4.6 M166.6 329.6v4.6 M167.1 323.8v4.6 M167.5 328.9v4.6 M167.9 325.0v4.6 M168.4 322.0v4.6 M168.8 328.3v4.6 M169.3 331.7v4.6 M169.7 332.4v4.6 M170.1 335.8v4.6 M170.6 336.6v4.6 M171.0 339.9v4.6 M171.5 338.9v4.6 M171.9 336.4v4.6 M172.3 337.4v4.6 M172.8 327.8v4.6 M173.2 314.3v4.6 M173.6 297.3v4.6 M174.1 276.8v4.6 M174.5 263.3v4.6 M175.0 255.7v4.6 M175.4 247.8v4.6 M175.8 243.0v4.6 M176.3 247.0v4.6 M176.7 251.0v4.6 M177.2 256.1v4.6 M177.6 261.1v4.6 M178.0 271.0v4.6 M178.5 280.6v4.6 M178.9 291.6v4.6 M179.4 303.3v4.6 M179.8 309.4v4.6 M180.2 315.1v4.6 M180.7 323.1v4.6 M181.1 313.2v4.6 M181.6 309.8v4.6 M182.0 307.3v4.6 M182.4 300.6v4.6 M182.9 307.6v4.6 M183.3 315.3v4.6 M183.8 313.3v4.6 M184.2 319.1v4.6 M184.6 310.8v4.6 M185.1 310.6v4.6 M185.5 316.5v4.6 M185.9 311.7v4.6 M186.4 316.4v4.6 M186.8 309.4v4.6 M187.3 309.6v4.6 M187.7 320.3v4.6 M188.1 310.9v4.6 M188.6 308.2v4.6 M189.0 309.7v4.6 M189.5 304.4v4.6 M189.9 307.7v4.6 M190.3 308.7v4.6 M190.8 307.1v4.6 M191.2 315.4v4.6 M191.7 301.7v4.6 M192.1 299.7v4.6 M192.5 305.3v4.6 M193.0 292.2v4.6 M193.4 305.2v4.6 M193.9 307.3v4.6 M194.3 304.0v4.6 M194.7 315.2v4.6 M195.2 307.4v4.6 M195.6 308.2v4.6 M196.0 305.9v4.6 M196.5 297.3v4.6 M196.9 302.1v4.6 M197.4 307.5v4.6 M197.8 305.2v4.6 M198.2 314.2v4.6 M198.7 298.0v4.6 M199.1 306.5v4.6 M199.6 304.1v4.6 M200.0 297.0v4.6 M200.4 300.9v4.6 M200.9 299.2v4.6 M201.3 290.7v4.6 M201.8 314.5v4.6 M202.2 302.6v4.6 M202.6 305.7v4.6 M203.1 305.1v4.6 M203.5 298.1v4.6 M204.0 301.6v4.6 M204.4 302.2v4.6 M204.8 299.3v4.6 M205.3 311.2v4.6 M205.7 306.3v4.6 M206.1 302.4v4.6 M206.6 304.2v4.6 M207.0 298.5v4.6 M207.5 301.7v4.6 M207.9 309.1v4.6 M208.3 304.4v4.6 M208.8 309.6v4.6 M209.2 302.7v4.6 M209.7 309.5v4.6 M210.1 305.9v4.6 M210.5 296.9v4.6 M211.0 293.7v4.6 M211.4 305.3v4.6 M211.9 307.2v4.6 M212.3 315.6v4.6 M212.7 300.4v4.6 M213.2 305.1v4.6 M213.6 303.2v4.6 M214.1 297.9v4.6 M214.5 308.6v4.6 M214.9 307.7v4.6 M215.4 301.4v4.6 M215.8 307.3v4.6 M216.2 303.1v4.6 M216.7 304.1v4.6 M217.1 306.1v4.6 M217.6 297.4v4.6 M218.0 300.7v4.6 M218.4 308.6v4.6 M218.9 309.6v4.6 M219.3 314.2v4.6 M219.8 311.2v4.6 M220.2 318.8v4.6 M220.6 322.0v4.6 M221.1 319.7v4.6 M221.5 320.1v4.6 M222.0 315.9v4.6 M222.4 312.0v4.6 M222.8 308.6v4.6 M223.3 301.7v4.6 M223.7 302.2v4.6 M224.2 304.0v4.6 M224.6 296.8v4.6 M225.0 303.0v4.6 M225.5 303.2v4.6 M225.9 303.9v4.6 M226.3 310.6v4.6 M226.8 308.4v4.6 M227.2 301.8v4.6 M227.7 309.1v4.6 M228.1 298.3v4.6 M228.5 300.1v4.6 M229.0 300.0v4.6 M229.4 301.5v4.6 M229.9 314.0v4.6 M230.3 306.2v4.6 M230.7 299.9v4.6 M231.2 293.4v4.6 M231.6 291.3v4.6 M232.1 296.7v4.6 M232.5 301.0v4.6 M232.9 306.9v4.6 M233.4 302.6v4.6 M233.8 295.0v4.6 M234.3 292.1v4.6 M234.7 291.4v4.6 M235.1 294.8v4.6 M235.6 302.6v4.6 M236.0 310.4v4.6 M236.5 302.2v4.6 M236.9 295.8v4.6 M237.3 288.5v4.6 M237.8 288.6v4.6 M238.2 295.3v4.6 M238.6 303.7v4.6 M239.1 307.7v4.6 M239.5 301.0v4.6 M240.0 295.5v4.6 M240.4 286.0v4.6 M240.8 287.4v4.6 M241.3 294.0v4.6 M241.7 300.1v4.6 M242.2 310.7v4.6 M242.6 302.3v4.6 M243.0 294.3v4.6 M243.5 289.9v4.6 M243.9 287.9v4.6 M244.4 295.4v4.6 M244.8 301.5v4.6 M245.2 303.1v4.6 M245.7 299.5v4.6 M246.1 293.4v4.6 M246.6 287.1v4.6 M247.0 285.6v4.6 M247.4 293.5v4.6 M247.9 298.7v4.6 M248.3 305.8v4.6 M248.7 298.7v4.6 M249.2 293.8v4.6 M249.6 288.3v4.6 M250.1 286.9v4.6 M250.5 296.3v4.6 M250.9 299.8v4.6 M251.4 312.2v4.6 M251.8 310.3v4.6 M252.3 311.6v4.6 M252.7 314.8v4.6 M253.1 320.5v4.6 M253.6 307.0v4.6 M254.0 286.3v4.6 M254.5 255.4v4.6 M254.9 212.3v4.6 M255.3 174.0v4.6 M255.8 150.8v4.6 M256.2 143.9v4.6 M256.7 153.9v4.6 M257.1 165.1v4.6 M257.5 177.1v4.6 M258.0 178.8v4.6 M258.4 177.2v4.6 M258.8 202.6v4.6 M259.3 222.3v4.6 M259.7 240.2v4.6 M260.2 256.0v4.6 M260.6 276.7v4.6 M261.0 258.9v4.6 M261.5 233.6v4.6 M261.9 211.2v4.6 M262.4 188.3v4.6 M262.8 157.9v4.6 M263.2 122.2v4.6 M263.7 127.3v4.6 M264.1 133.0v4.6 M264.6 137.2v4.6 M265.0 140.4v4.6 M265.4 161.0v4.6 M265.9 190.7v4.6 M266.3 236.6v4.6 M266.8 247.6v4.6 M267.2 257.7v4.6 M267.6 267.9v4.6 M268.1 275.4v4.6 M268.5 286.7v4.6 M268.9 291.8v4.6 M269.4 297.5v4.6 M269.8 305.9v4.6 M270.3 308.7v4.6 M270.7 298.9v4.6 M271.1 304.3v4.6 M271.6 304.3v4.6 M272.0 314.4v4.6 M272.5 308.2v4.6 M272.9 310.8v4.6 M273.3 303.1v4.6 M273.8 305.7v4.6 M274.2 307.2v4.6 M274.7 300.4v4.6 M275.1 296.1v4.6 M275.5 297.0v4.6 M276.0 289.2v4.6 M276.4 288.3v4.6 M276.9 281.8v4.6 M277.3 280.0v4.6 M277.7 275.2v4.6 M278.2 280.8v4.6 M278.6 288.0v4.6 M279.0 300.2v4.6 M279.5 288.6v4.6 M279.9 279.1v4.6 M280.4 274.0v4.6 M280.8 271.1v4.6 M281.2 279.1v4.6 M281.7 287.8v4.6 M282.1 292.0v4.6 M282.6 283.5v4.6 M283.0 277.1v4.6 M283.4 269.8v4.6 M283.9 269.7v4.6 M284.3 277.4v4.6 M284.8 282.2v4.6 M285.2 293.2v4.6 M285.6 286.1v4.6 M286.1 274.9v4.6 M286.5 268.5v4.6 M287.0 266.7v4.6 M287.4 274.8v4.6 M287.8 286.6v4.6 M288.3 293.8v4.6 M288.7 286.3v4.6 M289.2 276.3v4.6 M289.6 269.4v4.6 M290.0 266.1v4.6 M290.5 274.5v4.6 M290.9 285.6v4.6 M291.3 290.1v4.6 M291.8 281.1v4.6 M292.2 275.6v4.6 M292.7 264.2v4.6 M293.1 266.6v4.6 M293.5 272.9v4.6 M294.0 284.9v4.6 M294.4 296.6v4.6 M294.9 286.4v4.6 M295.3 274.9v4.6 M295.7 269.7v4.6 M296.2 272.5v4.6 M296.6 275.7v4.6 M297.1 286.2v4.6 M297.5 288.0v4.6 M297.9 284.8v4.6 M298.4 277.6v4.6 M298.8 268.6v4.6 M299.3 269.2v4.6 M299.7 283.1v4.6 M300.1 293.7v4.6 M300.6 293.6v4.6 M301.0 292.6v4.6 M301.4 291.7v4.6 M301.9 218.1v4.6 M302.3 213.0v4.6 M302.8 209.1v4.6 M303.2 203.4v4.6 M303.6 201.6v4.6 M304.1 199.1v4.6 M304.5 204.3v4.6 M305.0 204.1v4.6 M305.4 208.5v4.6 M305.8 213.3v4.6 M306.3 229.5v4.6 M306.7 249.1v4.6 M307.2 248.1v4.6 M307.6 247.5v4.6 M308.0 249.6v4.6 M308.5 253.2v4.6 M308.9 265.2v4.6 M309.4 264.0v4.6 M309.8 265.6v4.6 M310.2 269.3v4.6 M310.7 271.3v4.6 M311.1 278.5v4.6 M311.5 277.5v4.6 M312.0 280.6v4.6 M312.4 280.9v4.6 M312.9 286.7v4.6 M313.3 288.1v4.6 M313.7 289.4v4.6 M314.2 292.1v4.6 M314.6 290.4v4.6 M315.1 287.2v4.6 M315.5 285.8v4.6 M315.9 271.1v4.6 M316.4 277.3v4.6 M316.8 275.4v4.6 M317.3 268.5v4.6 M317.7 265.0v4.6 M318.1 269.6v4.6 M318.6 279.0v4.6 M319.0 286.7v4.6 M319.5 256.1v4.6 M319.9 267.4v4.6 M320.3 257.1v4.6 M320.8 259.1v4.6 M321.2 267.9v4.6 M321.6 276.8v4.6 M322.1 281.9v4.6 M322.5 276.9v4.6 M323.0 269.1v4.6 M323.4 262.7v4.6 M323.8 264.7v4.6 M324.3 269.1v4.6 M324.7 277.5v4.6 M325.2 285.3v4.6 M325.6 279.1v4.6 M326.0 269.5v4.6 M326.5 258.1v4.6 M326.9 256.1v4.6 M327.4 276.4v4.6 M327.8 284.2v4.6 M328.2 287.7v4.6 M328.7 289.0v4.6 M329.1 218.7v4.6 M329.6 193.6v4.6 M330.0 156.3v4.6 M330.4 136.4v4.6 M330.9 113.2v4.6 M331.3 91.1v4.6 M331.8 68.8v4.6 M332.2 54.7v4.6 M332.6 66.4v4.6 M333.1 65.3v4.6 M333.5 60.6v4.6 M333.9 59.7v4.6 M334.4 113.2v4.6 M334.8 149.0v4.6 M335.3 179.4v4.6 M335.7 204.2v4.6 M336.1 229.5v4.6 M336.6 241.8v4.6 M337.0 245.9v4.6 M337.5 257.7v4.6 M337.9 265.2v4.6 M338.3 270.7v4.6 M338.8 262.5v4.6 M339.2 250.2v4.6 M339.7 234.8v4.6 M340.1 216.5v4.6 M340.5 199.8v4.6 M341.0 197.3v4.6 M341.4 190.5v4.6 M341.9 181.8v4.6 M342.3 173.6v4.6 M342.7 171.0v4.6 M343.2 183.9v4.6 M343.6 198.0v4.6 M344.0 189.0v4.6 M344.5 182.9v4.6 M344.9 179.9v4.6 M345.4 180.5v4.6 M345.8 185.8v4.6 M346.2 193.1v4.6 M346.7 199.5v4.6 M347.1 194.0v4.6 M347.6 186.9v4.6 M348.0 223.7v4.6 M348.4 210.1v4.6 M348.9 192.0v4.6 M349.3 190.6v4.6 M349.8 203.6v4.6 M350.2 193.2v4.6 M350.6 181.7v4.6 M351.1 176.0v4.6 M351.5 173.0v4.6 M352.0 180.0v4.6 M352.4 189.4v4.6 M352.8 195.9v4.6 M353.3 182.9v4.6 M353.7 167.4v4.6 M354.1 154.6v4.6 M354.6 155.0v4.6 M355.0 165.5v4.6 M355.5 181.4v4.6 M355.9 194.6v4.6 M356.3 184.5v4.6 M356.8 177.5v4.6 M357.2 169.1v4.6 M357.7 213.7v4.6 M358.1 183.0v4.6 M358.5 174.3v4.6 M359.0 166.4v4.6 M359.4 143.3v4.6 M359.9 152.8v4.6 M360.3 158.9v4.6 M360.7 167.0v4.6 M361.2 179.2v4.6 M361.6 189.6v4.6 M362.1 196.3v4.6 M362.5 202.3v4.6 M362.9 209.0v4.6 M363.4 213.3v4.6 M363.8 217.4v4.6 M364.2 222.5v4.6 M364.7 226.8v4.6 M365.1 226.1v4.6 M365.6 226.6v4.6 M366.0 222.4v4.6 M366.4 216.3v4.6 M366.9 214.7v4.6 M367.3 216.1v4.6 M367.8 219.5v4.6 M368.2 222.1v4.6 M368.6 213.5v4.6 M369.1 205.9v4.6 M369.5 200.0v4.6 M370.0 197.0v4.6 M370.4 193.7v4.6 M370.8 210.9v4.6 M371.3 222.5v4.6 M371.7 220.7v4.6 M372.2 216.8v4.6 M372.6 214.9v4.6 M373.0 217.6v4.6 M373.5 222.8v4.6 M373.9 227.2v4.6 M374.3 231.9v4.6 M374.8 230.6v4.6 M375.2 227.8v4.6 M375.7 225.0v4.6 M376.1 226.3v4.6 M376.5 231.4v4.6 M377.0 235.0v4.6 M377.4 239.4v4.6 M377.9 237.3v4.6 M378.3 235.7v4.6 M378.7 240.1v4.6 M379.2 235.4v4.6 M379.6 240.1v4.6 M380.1 243.8v4.6 M380.5 246.2v4.6 M380.9 252.3v4.6 M381.4 253.7v4.6 M381.8 257.4v4.6 M382.3 261.2v4.6 M382.7 262.1v4.6 M383.1 267.3v4.6 M383.6 271.4v4.6 M384.0 275.6v4.6 M384.5 283.1v4.6 M384.9 290.8v4.6 M385.3 296.3v4.6 M385.8 298.6v4.6 M386.2 295.0v4.6 M386.6 300.0v4.6 M387.1 296.9v4.6 M387.5 299.2v4.6 M388.0 299.7v4.6 M388.4 303.5v4.6 M388.8 300.8v4.6 M389.3 307.3v4.6 M389.7 307.9v4.6 M390.2 308.4v4.6 M390.6 312.6v4.6 M391.0 309.6v4.6 M391.5 311.6v4.6 M391.9 306.6v4.6 M392.4 305.1v4.6 M392.8 307.6v4.6 M393.2 307.0v4.6 M393.7 307.1v4.6 M394.1 304.6v4.6 M394.6 299.7v4.6 M395.0 317.5v4.6 M395.4 310.6v4.6 M395.9 312.3v4.6 M396.3 309.6v4.6 M396.7 314.6v4.6 M397.2 314.4v4.6 M397.6 314.1v4.6 M398.1 314.6v4.6 M398.5 317.0v4.6 M398.9 316.0v4.6 M399.4 309.1v4.6 M399.8 308.1v4.6 M400.3 301.1v4.6 M400.7 303.6v4.6 M401.1 301.7v4.6 M401.6 296.7v4.6 M402.0 294.7v4.6 M402.5 310.9v4.6 M402.9 312.5v4.6 M403.3 312.0v4.6 M403.8 308.5v4.6 M404.2 315.4v4.6 M404.7 312.2v4.6 M405.1 311.8v4.6 M405.5 320.6v4.6 M406.0 313.4v4.6 M406.4 317.2v4.6 M406.8 321.1v4.6 M407.3 310.2v4.6 M407.7 320.1v4.6 M408.2 323.3v4.6 M408.6 320.5v4.6 M409.0 318.3v4.6 M409.5 323.9v4.6 M409.9 324.5v4.6 M410.4 328.0v4.6 M410.8 316.1v4.6 M411.2 325.8v4.6 M411.7 323.0v4.6 M412.1 328.6v4.6 M412.6 336.5v4.6 M413.0 329.0v4.6 M413.4 332.1v4.6 M413.9 330.3v4.6 M414.3 325.2v4.6 M414.8 330.9v4.6 M415.2 332.5v4.6 M415.6 332.4v4.6 M416.1 342.5v4.6 M416.5 337.4v4.6 M416.9 334.6v4.6 M417.4 337.1v4.6 M417.8 330.0v4.6 M418.3 339.1v4.6 M418.7 338.4v4.6 M419.1 337.2v4.6 M419.6 343.8v4.6 M420.0 340.5v4.6 M420.5 341.9v4.6 M420.9 340.9v4.6 M421.3 334.2v4.6 M421.8 341.1v4.6 M422.2 338.7v4.6 M422.7 340.6v4.6 M423.1 338.4v4.6 M423.5 338.2v4.6 M424.0 344.0v4.6 M424.4 340.8v4.6 M424.9 343.5v4.6 M425.3 340.5v4.6 M425.7 341.7v4.6 M426.2 341.9v4.6 M426.6 348.7v4.6 M427.0 343.1v4.6 M427.5 340.3v4.6 M427.9 342.8v4.6 M428.4 341.8v4.6 M428.8 341.3v4.6 M429.2 344.3v4.6 M429.7 341.5v4.6 M430.1 344.9v4.6 M430.6 339.6v4.6 M431.0 338.3v4.6 M431.4 342.0v4.6 M431.9 334.6v4.6 M432.3 341.3v4.6 M432.8 337.4v4.6 M433.2 337.1v4.6 M433.6 324.6v4.6 M434.1 312.8v4.6 M434.5 304.2v4.6 M435.0 298.0v4.6 M435.4 293.9v4.6 M435.8 291.5v4.6 M436.3 287.7v4.6 M436.7 291.8v4.6 M437.1 300.0v4.6 M437.6 299.0v4.6 M438.0 302.8v4.6 M438.5 307.8v4.6 M438.9 310.9v4.6 M439.3 318.2v4.6 M439.8 328.9v4.6 M440.2 335.7v4.6 M440.7 340.4v4.6 M441.1 339.5v4.6 M441.5 342.5v4.6 M442.0 342.8v4.6 M442.4 337.0v4.6 M442.9 344.6v4.6 M443.3 343.9v4.6 M443.7 342.7v4.6 M444.2 344.5v4.6 M444.6 341.2v4.6 M445.1 345.5v4.6 M445.5 344.3v4.6 M445.9 336.7v4.6 M446.4 342.4v4.6 M446.8 342.7v4.6 M447.3 344.8v4.6 M447.7 346.3v4.6 M448.1 346.3v4.6 M448.6 346.7v4.6 M449.0 344.9v4.6 M449.4 340.9v4.6 M449.9 335.5v4.6 M450.3 326.5v4.6 M450.8 321.9v4.6 M451.2 316.5v4.6 M451.6 310.5v4.6 M452.1 308.9v4.6 M452.5 304.8v4.6 M453.0 300.9v4.6 M453.4 307.3v4.6 M453.8 309.7v4.6 M454.3 305.5v4.6 M454.7 314.7v4.6 M455.2 307.3v4.6 M455.6 307.7v4.6 M456.0 304.7v4.6 M456.5 300.2v4.6 M456.9 307.2v4.6 M457.4 303.6v4.6 M457.8 296.8v4.6 M458.2 295.3v4.6 M458.7 292.9v4.6 M459.1 287.5v4.6 M459.5 284.8v4.6 M460.0 280.0v4.6 M460.4 280.7v4.6 M460.9 277.2v4.6 M461.3 274.8v4.6 M461.7 272.7v4.6 M462.2 277.2v4.6 M462.6 282.4v4.6 M463.1 283.4v4.6 M463.5 286.9v4.6 M463.9 291.7v4.6 M464.4 295.3v4.6 M464.8 296.0v4.6 M465.3 294.4v4.6 M465.7 297.4v4.6 M466.1 301.2v4.6 M466.6 301.8v4.6 M467.0 300.0v4.6 M467.5 305.1v4.6 M467.9 306.1v4.6 M468.3 310.6v4.6 M468.8 312.6v4.6 M469.2 312.0v4.6 M469.6 315.6v4.6 M470.1 314.0v4.6 M470.5 316.5v4.6 M471.0 318.8v4.6 M471.4 312.0v4.6 M471.8 313.8v4.6 M472.3 318.9v4.6 M472.7 319.9v4.6 M473.2 316.9v4.6 M473.6 313.7v4.6 M474.0 310.2v4.6 M474.5 310.6v4.6 M474.9 315.4v4.6 M475.4 318.8v4.6 M475.8 320.6v4.6 M476.2 318.2v4.6 M476.7 313.3v4.6 M477.1 306.9v4.6 M477.6 306.3v4.6 M478.0 309.8v4.6 M478.4 312.6v4.6 M478.9 317.0v4.6 M479.3 312.6v4.6 M479.7 308.3v4.6 M480.2 303.3v4.6 M480.6 303.3v4.6 M481.1 308.5v4.6 M481.5 312.1v4.6 M481.9 316.5v4.6 M482.4 311.2v4.6 M482.8 305.3v4.6 M483.3 300.8v4.6 M483.7 300.3v4.6 M484.1 304.5v4.6 M484.6 308.9v4.6 M485.0 315.4v4.6 M485.5 309.5v4.6 M485.9 302.5v4.6 M486.3 299.0v4.6 M486.8 298.1v4.6 M487.2 301.3v4.6 M487.7 307.0v4.6 M488.1 311.9v4.6 M488.5 305.6v4.6 M489.0 300.7v4.6 M489.4 294.2v4.6 M489.9 295.3v4.6 M490.3 300.7v4.6 M490.7 305.1v4.6 M491.2 310.7v4.6 M491.6 306.3v4.6 M492.0 302.7v4.6 M492.5 296.8v4.6 M492.9 298.1v4.6 M493.4 302.1v4.6 M493.8 308.7v4.6 M494.2 311.7v4.6 M494.7 307.6v4.6 M495.1 304.0v4.6 M495.6 301.6v4.6 M496.0 302.4v4.6 M496.4 305.8v4.6 M496.9 309.9v4.6 M497.3 316.5v4.6 M497.8 311.5v4.6 M498.2 306.2v4.6 M498.6 303.9v4.6 M499.1 308.4v4.6 M499.5 313.5v4.6 M500.0 312.2v4.6 M500.4 318.2v4.6 M500.8 319.0v4.6 M501.3 321.4v4.6 M501.7 322.6v4.6 M502.1 327.1v4.6 M502.6 327.0v4.6 M503.0 330.1v4.6 M503.5 330.8v4.6 M503.9 336.0v4.6 M504.3 337.0v4.6 M504.8 338.0v4.6 M505.2 337.6v4.6 M505.7 340.3v4.6 M506.1 338.7v4.6 M506.5 339.2v4.6 M507.0 340.7v4.6 M507.4 338.8v4.6 M507.9 338.9v4.6 M508.3 341.1v4.6 M508.7 341.0v4.6 M509.2 340.8v4.6 M509.6 339.6v4.6 M510.1 340.9v4.6 M510.5 339.1v4.6 M510.9 341.7v4.6 M511.4 337.8v4.6 M511.8 339.1v4.6 M512.2 337.8v4.6 M512.7 339.8v4.6 M513.1 339.2v4.6 M513.6 340.0v4.6 M514.0 330.4v4.6 M514.4 324.6v4.6 M514.9 308.7v4.6 M515.3 318.0v4.6 M515.8 326.2v4.6 M516.2 330.8v4.6 M516.6 335.0v4.6 M517.1 337.4v4.6 M517.5 338.5v4.6 M518.0 339.6v4.6 M518.4 337.8v4.6 M518.8 334.5v4.6 M519.3 331.6v4.6 M519.7 326.0v4.6 M520.2 328.4v4.6 M520.6 330.7v4.6 M521.0 330.9v4.6 M521.5 337.4v4.6 M521.9 331.2v4.6 M522.3 329.5v4.6 M522.8 328.5v4.6 M523.2 322.6v4.6 M523.7 328.2v4.6 M524.1 328.6v4.6 M524.5 326.3v4.6 M525.0 325.0v4.6 M525.4 326.8v4.6 M525.9 330.8v4.6 M526.3 328.6v4.6 M526.7 321.0v4.6 M527.2 325.2v4.6 M527.6 324.4v4.6 M528.1 327.1v4.6 M528.5 330.5v4.6 M528.9 326.5v4.6 M529.4 322.7v4.6 M529.8 325.3v4.6 M530.3 314.9v4.6 M530.7 323.4v4.6 M531.1 325.1v4.6 M531.6 322.5v4.6 M532.0 324.3v4.6 M532.4 319.0v4.6 M532.9 317.7v4.6 M533.3 322.4v4.6 M533.8 312.3v4.6 M534.2 320.5v4.6 M534.6 324.1v4.6 M535.1 319.6v4.6 M535.5 327.2v4.6 M536.0 318.3v4.6 M536.4 320.3v4.6 M536.8 318.1v4.6 M537.3 322.3v4.6 M537.7 318.6v4.6 M538.2 317.1v4.6 M538.6 319.2v4.6 M539.0 323.4v4.6 M539.5 316.5v4.6 M539.9 320.7v4.6 M540.4 315.0v4.6 M540.8 308.4v4.6 M541.2 313.2v4.6 M541.7 316.7v4.6 M542.1 318.7v4.6 M542.5 325.1v4.6 M543.0 316.0v4.6 M543.4 314.7v4.6 M543.9 316.1v4.6 M544.3 306.7v4.6 M544.7 315.1v4.6 M545.2 313.6v4.6 M545.6 314.8v4.6 M546.1 322.0v4.6 M546.5 313.7v4.6 M546.9 314.5v4.6 M547.4 312.1v4.6 M547.8 305.6v4.6 M548.3 311.4v4.6 M548.7 314.9v4.6 M549.1 309.4v4.6 M549.6 313.3v4.6 M550.0 315.2v4.6 M550.5 311.2v4.6 M550.9 310.3v4.6 M551.3 305.9v4.6 M551.8 309.7v4.6 M552.2 312.9v4.6 M552.7 315.9v4.6 M553.1 316.6v4.6 M553.5 314.6v4.6 M554.0 314.0v4.6 M554.4 311.1v4.6 M554.8 313.3v4.6 M555.3 310.4v4.6 M555.7 313.3v4.6 M556.2 314.1v4.6 M556.6 321.8v4.6 M557.0 312.4v4.6 M557.5 310.4v4.6 M557.9 310.0v4.6 M558.4 308.0v4.6 M558.8 316.2v4.6 M559.2 316.1v4.6 M559.7 309.5v4.6 M560.1 312.2v4.6 M560.6 312.3v4.6 M561.0 311.5v4.6 M561.4 316.7v4.6 M561.9 307.1v4.6 M562.3 312.1v4.6 M562.8 316.1v4.6 M563.2 316.5v4.6 M563.6 319.7v4.6 M564.1 309.0v4.6 M564.5 315.2v4.6 M564.9 315.4v4.6 M565.4 310.8v4.6 M565.8 315.6v4.6 M566.3 315.3v4.6 M566.7 311.1v4.6 M567.1 316.6v4.6 M567.6 308.9v4.6 M568.0 297.7v4.6 M568.5 306.9v4.6 M568.9 310.2v4.6 M569.3 313.8v4.6 M569.8 315.7v4.6 M570.2 318.6v4.6 M570.7 321.8v4.6 M571.1 322.0v4.6 M571.5 315.4v4.6 M572.0 309.5v4.6 M572.4 306.6v4.6 M572.9 309.3v4.6 M573.3 311.8v4.6 M573.7 308.6v4.6 M574.2 307.5v4.6 M574.6 312.4v4.6 M575.0 307.5v4.6 M575.5 311.4v4.6 M575.9 302.0v4.6 M576.4 312.8v4.6 M576.8 307.5v4.6 M577.2 306.7v4.6 M577.7 314.1v4.6 M578.1 309.7v4.6 M578.6 307.1v4.6 M579.0 306.8v4.6 M579.4 306.0v4.6 M579.9 300.7v4.6 M580.3 306.7v4.6 M580.8 309.8v4.6 M581.2 313.7v4.6 M581.6 305.6v4.6 M582.1 311.0v4.6 M582.5 309.5v4.6 M583.0 302.2v4.6 M583.4 308.2v4.6 M583.8 305.1v4.6 M584.3 306.1v4.6 M584.7 314.7v4.6 M585.1 307.3v4.6 M585.6 309.9v4.6 M586.0 310.4v4.6 M586.5 302.8v4.6 M586.9 309.0v4.6 M587.3 306.6v4.6 M587.8 308.7v4.6 M588.2 312.3v4.6 M588.7 306.4v4.6 M589.1 305.1v4.6 M589.5 310.2v4.6 M590.0 300.5v4.6 M590.4 304.1v4.6 M590.9 305.5v4.6 M591.3 307.1v4.6 M591.7 313.8v4.6 M592.2 306.0v4.6 M592.6 309.4v4.6 M593.1 307.1v4.6 M593.5 301.7v4.6 M593.9 305.4v4.6 M594.4 306.4v4.6 M594.8 297.7v4.6 M595.2 301.8v4.6 M595.7 308.0v4.6 M596.1 315.1v4.6 M596.6 315.1v4.6 M597.0 307.9v4.6 M597.4 310.1v4.6 M597.9 312.3v4.6 M598.3 305.9v4.6 M598.8 307.2v4.6 M599.2 308.2v4.6 M599.6 308.3v4.6 M600.1 304.2v4.6 M600.5 296.4v4.6 M601.0 304.1v4.6 M601.4 300.4v4.6 M601.8 299.4v4.6 M602.3 311.4v4.6 M602.7 300.7v4.6 M603.2 294.7v4.6 M603.6 300.4v4.6 M604.0 295.9v4.6 M604.5 299.3v4.6 M604.9 298.4v4.6 M605.4 302.7v4.6 M605.8 306.7v4.6 M606.2 300.1v4.6 M606.7 298.9v4.6 M607.1 303.2v4.6 M607.5 292.2v4.6 M608.0 301.9v4.6 M608.4 301.1v4.6 M608.9 300.0v4.6 M609.3 305.1v4.6 M609.7 300.7v4.6 M610.2 295.8v4.6 M610.6 294.9v4.6 M611.1 291.1v4.6 M611.5 298.6v4.6 M611.9 293.3v4.6 M612.4 296.2v4.6 M612.8 301.7v4.6 M613.3 291.8v4.6 M613.7 297.9v4.6 M614.1 297.4v4.6 M614.6 295.8v4.6 M615.0 294.9v4.6 M615.5 292.1v4.6 M615.9 290.3v4.6 M616.3 295.6v4.6 M616.8 297.8v4.6 M617.2 291.7v4.6 M617.6 288.9v4.6 M618.1 284.7v4.6 M618.5 292.0v4.6 M619.0 295.2v4.6 M619.4 297.7v4.6 M619.8 302.7v4.6 M620.3 297.8v4.6 M620.7 290.8v4.6 M621.2 291.6v4.6 M621.6 285.5v4.6 M622.0 295.6v4.6 M622.5 288.2v4.6 M622.9 293.2v4.6 M623.4 293.6v4.6 M623.8 295.6v4.6 M624.2 291.2v4.6 M624.7 289.0v4.6 M625.1 285.0v4.6 M625.6 287.1v4.6 M626.0 294.5v4.6 M626.4 285.3v4.6 M626.9 295.8v4.6 M627.3 284.2v4.6 M627.7 292.4v4.6 M628.2 287.8v4.6 M628.6 279.0v4.6 M629.1 286.8v4.6 M629.5 286.6v4.6 M629.9 290.0v4.6 M630.4 283.0v4.6 M630.8 285.3v4.6 M631.3 284.2v4.6 M631.7 281.5v4.6 M632.1 277.7v4.6 M632.6 289.5v4.6 M633.0 290.1v4.6 M633.5 286.6v4.6 M633.9 281.2v4.6 M634.3 286.4v4.6 M634.8 285.9v4.6 M635.2 285.1v4.6 M635.7 278.6v4.6 M636.1 288.7v4.6 M636.5 282.2v4.6 M637.0 284.6v4.6 M637.4 293.1v4.6 M637.8 285.7v4.6 M638.3 285.2v4.6 M638.7 283.9v4.6 M639.2 279.2v4.6 M639.6 285.2v4.6 M640.0 287.8v4.6 M640.5 280.7v4.6 M640.9 289.6v4.6 M641.4 283.8v4.6 M641.8 283.5v4.6 M642.2 282.6v4.6 M642.7 277.0v4.6 M643.1 277.9v4.6 M643.6 284.3v4.6 M644.0 282.5v4.6 M644.4 277.0v4.6 M644.9 281.7v4.6 M645.3 281.7v4.6 M645.8 275.1v4.6 M646.2 277.1v4.6 M646.6 272.7v4.6 M647.1 271.0v4.6 M647.5 272.3v4.6 M648.0 278.0v4.6 M648.4 268.9v4.6 M648.8 268.2v4.6 M649.3 268.1v4.6 M649.7 266.1v4.6 M650.1 268.0v4.6 M650.6 266.7v4.6 M651.0 266.4v4.6 M651.5 271.3v4.6 M651.9 262.9v4.6 M652.3 264.9v4.6 M652.8 258.9v4.6 M653.2 257.4v4.6 M653.7 256.9v4.6 M654.1 255.7v4.6 M654.5 262.3v4.6 M655.0 269.0v4.6 M655.4 265.5v4.6 M655.9 262.8v4.6 M656.3 268.2v4.6 M656.7 261.6v4.6 M657.2 268.8v4.6 M657.6 265.9v4.6 M658.1 269.1v4.6 M658.5 276.2v4.6 M658.9 266.8v4.6 M659.4 268.3v4.6 M659.8 274.1v4.6 M660.2 268.0v4.6 M660.7 267.4v4.6 M661.1 264.7v4.6 M661.6 270.3v4.6 M662.0 272.4v4.6 M662.4 274.4v4.6 M662.9 272.8v4.6 M663.3 277.2v4.6 M663.8 270.7v4.6 M664.2 274.2v4.6 M664.6 276.2v4.6 M665.1 275.0v4.6 M665.5 282.6v4.6 M666.0 273.4v4.6 M666.4 280.8v4.6 M666.8 275.3v4.6 M667.3 273.4v4.6 M667.7 278.9v4.6 M668.2 279.9v4.6 M668.6 283.1v4.6 M669.0 277.1v4.6 M669.5 282.8v4.6 M669.9 283.4v4.6 M670.3 282.9v4.6 M670.8 277.5v4.6 M671.2 287.0v4.6 M671.7 289.7v4.6 M672.1 285.6v4.6 M672.5 289.4v4.6 M673.0 282.4v4.6 M673.4 282.7v4.6 M673.9 282.0v4.6 M674.3 275.3v4.6 M674.7 282.0v4.6 M675.2 281.0v4.6 M675.6 280.1v4.6 M676.1 278.2v4.6 M676.5 268.7v4.6 M676.9 280.9v4.6 M677.4 282.2v4.6 M677.8 283.6v4.6 M678.3 287.8v4.6 M678.7 289.3v4.6 M679.1 287.5v4.6 M679.6 288.4v4.6 M680.0 285.9v4.6 M680.4 284.0v4.6 M680.9 284.7v4.6 M681.3 274.5v4.6 M681.8 279.4v4.6 M682.2 277.1v4.6 M682.6 279.1v4.6 M683.1 286.7v4.6 M683.5 278.3v4.6 M684.0 283.9v4.6 M684.4 278.1v4.6 M684.8 271.4v4.6 M685.3 276.9v4.6 M685.7 283.7v4.6 M686.2 277.2v4.6 M686.6 287.4v4.6 M687.0 281.3v4.6 M687.5 277.6v4.6 M687.9 282.1v4.6 M688.4 273.3v4.6 M688.8 278.4v4.6 M689.2 279.3v4.6 M689.7 281.6v4.6 M690.1 288.1v4.6 M690.5 279.6v4.6 M691.0 278.1v4.6 M691.4 283.4v4.6 M691.9 279.6v4.6 M692.3 285.9v4.6 M692.7 281.0v4.6 M693.2 282.0v4.6 M693.6 282.1v4.6 M694.1 285.4v4.6 M694.5 287.2v4.6 M694.9 288.2v4.6 M695.4 281.5v4.6 M695.8 285.9v4.6 M696.3 290.4v4.6 M696.7 287.3v4.6 M697.1 292.9v4.6 M697.6 288.0v4.6 M698.0 293.4v4.6 M698.5 287.0v4.6 M698.9 284.5v4.6 M699.3 290.5v4.6 M699.8 290.1v4.6 M700.2 289.6v4.6 M700.6 297.4v4.6 M701.1 293.5v4.6 M701.5 291.7v4.6 M702.0 293.5v4.6 M702.4 290.4v4.6 M702.8 298.5v4.6 M703.3 292.6v4.6 M703.7 294.6v4.6 M704.2 297.0v4.6 M704.6 296.3v4.6 M705.0 297.7v4.6 M705.5 301.3v4.6 M705.9 291.9v4.6 M706.4 299.5v4.6 M706.8 301.0v4.6 M707.2 298.7v4.6 M707.7 305.6v4.6 M708.1 298.9v4.6 M708.6 296.1v4.6 M709.0 297.3v4.6 M709.4 292.9v4.6 M709.9 298.5v4.6 M710.3 300.9v4.6 M710.8 297.7v4.6 M711.2 304.4v4.6 M711.6 295.3v4.6 M712.1 299.1v4.6 M712.5 295.4v4.6 M712.9 287.7v4.6 M713.4 295.4v4.6 M713.8 296.6v4.6 M714.3 300.2v4.6 M714.7 305.7v4.6 M715.1 300.3v4.6 M715.6 295.7v4.6 M716.0 303.0v4.6 M716.5 294.1v4.6 M716.9 303.2v4.6 M717.3 302.9v4.6 M717.8 301.6v4.6 M718.2 305.3v4.6 M718.7 296.5v4.6 M719.1 303.8v4.6 M719.5 303.7v4.6 M720.0 296.7v4.6 M720.4 303.4v4.6 M720.9 297.2v4.6 M721.3 299.0v4.6 M721.7 306.7v4.6 M722.2 306.0v4.6 M722.6 305.4v4.6 M723.0 302.6v4.6 M723.5 297.2v4.6 M723.9 305.0v4.6 M724.4 305.8v4.6 M724.8 301.8v4.6 M725.2 310.4v4.6 M725.7 304.4v4.6 M726.1 308.7v4.6 M726.6 307.6v4.6 M727.0 303.0v4.6" fill="none" stroke="#ff0000" stroke-width="0.8"/><path d="M94.6 305.5h0 M95.0 307.0h0 M95.5 309.1h0 M95.9 310.2h0 M96.4 315.7h0 M96.8 307.2h0 M97.2 312.5h0 M97.7 308.3h0 M98.1 302.7h0 M98.6 309.5h0 M99.0 307.1h0 M99.4 308.8h0 M99.9 314.7h0 M100.3 312.7h0 M100.7 311.0h0 M101.2 309.5h0 M101.6 306.3h0 M102.1 308.4h0 M102.5 310.0h0 M102.9 311.2h0 M103.4 315.7h0 M103.8 312.0h0 M104.3 311.2h0 M104.7 313.4h0 M105.1 305.7h0 M105.6 308.0h0 M106.0 312.6h0 M106.5 310.7h0 M106.9 317.3h0 M107.3 311.4h0 M107.8 309.5h0 M108.2 311.6h0 M108.7 305.2h0 M109.1 314.1h0 M109.5 312.1h0 M110.0 312.4h0 M110.4 313.0h0 M110.8 305.3h0 M111.3 291.0h0 M111.7 302.4h0 M112.2 305.5h0 M112.6 311.9h0 M113.0 311.2h0 M113.5 316.1h0 M113.9 319.6h0 M114.4 316.9h0 M114.8 317.1h0 M115.2 313.8h0 M115.7 306.1h0 M116.1 312.1h0 M116.6 313.4h0 M117.0 316.0h0 M117.4 322.2h0 M117.9 316.4h0 M118.3 318.0h0 M118.8 319.5h0 M119.2 311.8h0 M119.6 315.6h0 M120.1 321.5h0 M120.5 322.0h0 M120.9 312.0h0 M121.4 320.7h0 M121.8 317.4h0 M122.3 318.5h0 M122.7 317.3h0 M123.1 319.4h0 M123.6 321.5h0 M124.0 325.6h0 M124.5 327.9h0 M124.9 322.8h0 M125.3 321.5h0 M125.8 327.8h0 M126.2 319.1h0 M126.7 322.2h0 M127.1 323.5h0 M127.5 323.1h0 M128.0 331.9h0 M128.4 323.5h0 M128.9 323.1h0 M129.3 330.4h0 M129.7 338.0h0 M130.2 325.2h0 M130.6 327.8h0 M131.1 328.0h0 M131.5 330.8h0 M131.9 329.6h0 M132.4 328.3h0 M132.8 327.9h0 M133.2 320.3h0 M133.7 322.9h0 M134.1 324.8h0 M134.6 327.8h0 M135.0 326.1h0 M135.4 330.0h0 M135.9 325.6h0 M136.3 324.6h0 M136.8 321.9h0 M137.2 329.5h0 M137.6 326.6h0 M138.1 328.9h0 M138.5 333.3h0 M139.0 328.9h0 M139.4 326.7h0 M139.8 329.0h0 M140.3 320.0h0 M140.7 326.3h0 M141.2 330.3h0 M141.6 324.8h0 M142.0 331.7h0 M142.5 329.4h0 M142.9 329.6h0 M143.3 328.4h0 M143.8 321.3h0 M144.2 323.9h0 M144.7 328.5h0 M145.1 330.6h0 M145.5 334.8h0 M146.0 325.4h0 M146.4 326.0h0 M146.9 328.1h0 M147.3 322.0h0 M147.7 330.4h0 M148.2 327.2h0 M148.6 330.4h0 M149.1 335.0h0 M149.5 327.7h0 M149.9 324.1h0 M150.4 325.2h0 M150.8 320.5h0 M151.3 327.3h0 M151.7 327.9h0 M152.1 327.6h0 M152.6 334.5h0 M153.0 327.9h0 M153.4 325.9h0 M153.9 327.6h0 M154.3 320.6h0 M154.8 327.1h0 M155.2 327.5h0 M155.6 328.9h0 M156.1 333.5h0 M156.5 330.7h0 M157.0 330.2h0 M157.4 325.8h0 M157.8 319.9h0 M158.3 324.9h0 M158.7 327.1h0 M159.2 325.6h0 M159.6 334.0h0 M160.0 330.3h0 M160.5 329.0h0 M160.9 324.9h0 M161.4 330.8h0 M161.8 330.7h0 M162.2 327.4h0 M162.7 329.9h0 M163.1 333.1h0 M163.5 326.4h0 M164.0 326.3h0 M164.4 324.0h0 M164.9 321.6h0 M165.3 326.4h0 M165.7 327.9h0 M166.2 331.9h0 M166.6 331.9h0 M167.1 326.1h0 M167.5 331.2h0 M167.9 327.3h0 M168.4 324.3h0 M168.8 330.6h0 M169.3 334.0h0 M169.7 334.7h0 M170.1 338.1h0 M170.6 338.9h0 M171.0 342.2h0 M171.5 341.2h0 M171.9 338.7h0 M172.3 339.7h0 M172.8 330.1h0 M173.2 316.6h0 M173.6 299.6h0 M174.1 279.1h0 M174.5 265.6h0 M175.0 258.0h0 M175.4 250.1h0 M175.8 245.3h0 M176.3 249.3h0 M176.7 253.3h0 M177.2 258.4h0 M177.6 263.4h0 M178.0 273.3h0 M178.5 282.9h0 M178.9 293.9h0 M179.4 305.6h0 M179.8 311.7h0 M180.2 317.4h0 M180.7 325.4h0 M181.1 315.5h0 M181.6 312.1h0 M182.0 309.6h0 M182.4 302.9h0 M182.9 309.9h0 M183.3 317.6h0 M183.8 315.6h0 M184.2 321.4h0 M184.6 313.1h0 M185.1 312.9h0 M185.5 318.8h0 M185.9 314.0h0 M186.4 318.7h0 M186.8 311.7h0 M187.3 311.9h0 M187.7 322.6h0 M188.1 313.2h0 M188.6 310.5h0 M189.0 312.0h0 M189.5 306.7h0 M189.9 310.0h0 M190.3 311.0h0 M190.8 309.4h0 M191.2 317.7h0 M191.7 304.0h0 M192.1 302.0h0 M192.5 307.6h0 M193.0 294.5h0 M193.4 307.5h0 M193.9 309.6h0 M194.3 306.3h0 M194.7 317.5h0 M195.2 309.7h0 M195.6 310.5h0 M196.0 308.2h0 M196.5 299.6h0 M196.9 304.4h0 M197.4 309.8h0 M197.8 307.5h0 M198.2 316.5h0 M198.7 300.3h0 M199.1 308.8h0 M199.6 306.4h0 M200.0 299.3h0 M200.4 303.2h0 M200.9 301.5h0 M201.3 293.0h0 M201.8 316.8h0 M202.2 304.9h0 M202.6 308.0h0 M203.1 307.4h0 M203.5 300.4h0 M204.0 303.9h0 M204.4 304.5h0 M204.8 301.6h0 M205.3 313.5h0 M205.7 308.6h0 M206.1 304.7h0 M206.6 306.5h0 M207.0 300.8h0 M207.5 304.0h0 M207.9 311.4h0 M208.3 306.7h0 M208.8 311.9h0 M209.2 305.0h0 M209.7 311.8h0 M210.1 308.2h0 M210.5 299.2h0 M211.0 296.0h0 M211.4 307.6h0 M211.9 309.5h0 M212.3 317.9h0 M212.7 302.7h0 M213.2 307.4h0 M213.6 305.5h0 M214.1 300.2h0 M214.5 310.9h0 M214.9 310.0h0 M215.4 303.7h0 M215.8 309.6h0 M216.2 305.4h0 M216.7 306.4h0 M217.1 308.4h0 M217.6 299.7h0 M218.0 303.0h0 M218.4 310.9h0 M218.9 311.9h0 M219.3 316.5h0 M219.8 313.5h0 M220.2 321.1h0 M220.6 324.3h0 M221.1 322.0h0 M221.5 322.4h0 M222.0 318.2h0 M222.4 314.3h0 M222.8 310.9h0 M223.3 304.0h0 M223.7 304.5h0 M224.2 306.3h0 M224.6 299.1h0 M225.0 305.3h0 M225.5 305.5h0 M225.9 306.2h0 M226.3 312.9h0 M226.8 310.7h0 M227.2 304.1h0 M227.7 311.4h0 M228.1 300.6h0 M228.5 302.4h0 M229.0 302.3h0 M229.4 303.8h0 M229.9 316.3h0 M230.3 308.5h0 M230.7 302.2h0 M231.2 295.7h0 M231.6 293.6h0 M232.1 299.0h0 M232.5 303.3h0 M232.9 309.2h0 M233.4 304.9h0 M233.8 297.3h0 M234.3 294.4h0 M234.7 293.7h0 M235.1 297.1h0 M235.6 304.9h0 M236.0 312.7h0 M236.5 304.5h0 M236.9 298.1h0 M237.3 290.8h0 M237.8 290.9h0 M238.2 297.6h0 M238.6 306.0h0 M239.1 310.0h0 M239.5 303.3h0 M240.0 297.8h0 M240.4 288.3h0 M240.8 289.7h0 M241.3 296.3h0 M241.7 302.4h0 M242.2 313.0h0 M242.6 304.6h0 M243.0 296.6h0 M243.5 292.2h0 M243.9 290.2h0 M244.4 297.7h0 M244.8 303.8h0 M245.2 305.4h0 M245.7 301.8h0 M246.1 295.7h0 M246.6 289.4h0 M247.0 287.9h0 M247.4 295.8h0 M247.9 301.0h0 M248.3 308.1h0 M248.7 301.0h0 M249.2 296.1h0 M249.6 290.6h0 M250.1 289.2h0 M250.5 298.6h0 M250.9 302.1h0 M251.4 314.5h0 M251.8 312.6h0 M252.3 313.9h0 M252.7 317.1h0 M253.1 322.8h0 M253.6 309.3h0 M254.0 288.6h0 M254.5 257.7h0 M254.9 214.6h0 M255.3 176.3h0 M255.8 153.1h0 M256.2 146.2h0 M256.7 156.2h0 M257.1 167.4h0 M257.5 179.4h0 M258.0 181.1h0 M258.4 179.5h0 M258.8 204.9h0 M259.3 224.6h0 M259.7 242.5h0 M260.2 258.3h0 M260.6 279.0h0 M261.0 261.2h0 M261.5 235.9h0 M261.9 213.5h0 M262.4 190.6h0 M262.8 160.2h0 M263.2 124.5h0 M263.7 129.6h0 M264.1 135.3h0 M264.6 139.5h0 M265.0 142.7h0 M265.4 163.3h0 M265.9 193.0h0 M266.3 238.9h0 M266.8 249.9h0 M267.2 260.0h0 M267.6 270.2h0 M268.1 277.7h0 M268.5 289.0h0 M268.9 294.1h0 M269.4 299.8h0 M269.8 308.2h0 M270.3 311.0h0 M270.7 301.2h0 M271.1 306.6h0 M271.6 306.6h0 M272.0 316.7h0 M272.5 310.5h0 M272.9 313.1h0 M273.3 305.4h0 M273.8 308.0h0 M274.2 309.5h0 M274.7 302.7h0 M275.1 298.4h0 M275.5 299.3h0 M276.0 291.5h0 M276.4 290.6h0 M276.9 284.1h0 M277.3 282.3h0 M277.7 277.5h0 M278.2 283.1h0 M278.6 290.3h0 M279.0 302.5h0 M279.5 290.9h0 M279.9 281.4h0 M280.4 276.3h0 M280.8 273.4h0 M281.2 281.4h0 M281.7 290.1h0 M282.1 294.3h0 M282.6 285.8h0 M283.0 279.4h0 M283.4 272.1h0 M283.9 272.0h0 M284.3 279.7h0 M284.8 284.5h0 M285.2 295.5h0 M285.6 288.4h0 M286.1 277.2h0 M286.5 270.8h0 M287.0 269.0h0 M287.4 277.1h0 M287.8 288.9h0 M288.3 296.1h0 M288.7 288.6h0 M289.2 278.6h0 M289.6 271.7h0 M290.0 268.4h0 M290.5 276.8h0 M290.9 287.9h0 M291.3 292.4h0 M291.8 283.4h0 M292.2 277.9h0 M292.7 266.5h0 M293.1 268.9h0 M293.5 275.2h0 M294.0 287.2h0 M294.4 298.9h0 M294.9 288.7h0 M295.3 277.2h0 M295.7 272.0h0 M296.2 274.8h0 M296.6 278.0h0 M297.1 288.5h0 M297.5 290.3h0 M297.9 287.1h0 M298.4 279.9h0 M298.8 270.9h0 M299.3 271.5h0 M299.7 285.4h0 M300.1 296.0h0 M300.6 295.9h0 M301.0 294.9h0 M301.4 294.0h0 M301.9 220.4h0 M302.3 215.3h0 M302.8 211.4h0 M303.2 205.7h0 M303.6 203.9h0 M304.1 201.4h0 M304.5 206.6h0 M305.0 206.4h0 M305.4 210.8h0 M305.8 215.6h0 M306.3 231.8h0 M306.7 251.4h0 M307.2 250.4h0 M307.6 249.8h0 M308.0 251.9h0 M308.5 255.5h0 M308.9 267.5h0 M309.4 266.3h0 M309.8 267.9h0 M310.2 271.6h0 M310.7 273.6h0 M311.1 280.8h0 M311.5 279.8h0 M312.0 282.9h0 M312.4 283.2h0 M312.9 289.0h0 M313.3 290.4h0 M313.7 291.7h0 M314.2 294.4h0 M314.6 292.7h0 M315.1 289.5h0 M315.5 288.1h0 M315.9 273.4h0 M316.4 279.6h0 M316.8 277.7h0 M317.3 270.8h0 M317.7 267.3h0 M318.1 271.9h0 M318.6 281.3h0 M319.0 289.0h0 M319.5 258.4h0 M319.9 269.7h0 M320.3 259.4h0 M320.8 261.4h0 M321.2 270.2h0 M321.6 279.1h0 M322.1 284.2h0 M322.5 279.2h0 M323.0 271.4h0 M323.4 265.0h0 M323.8 267.0h0 M324.3 271.4h0 M324.7 279.8h0 M325.2 287.6h0 M325.6 281.4h0 M326.0 271.8h0 M326.5 260.4h0 M326.9 258.4h0 M327.4 278.7h0 M327.8 286.5h0 M328.2 290.0h0 M328.7 291.3h0 M329.1 221.0h0 M329.6 195.9h0 M330.0 158.6h0 M330.4 138.7h0 M330.9 115.5h0 M331.3 93.4h0 M331.8 71.1h0 M332.2 57.0h0 M332.6 68.7h0 M333.1 67.6h0 M333.5 62.9h0 M333.9 62.0h0 M334.4 115.5h0 M334.8 151.3h0 M335.3 181.7h0 M335.7 206.5h0 M336.1 231.8h0 M336.6 244.1h0 M337.0 248.2h0 M337.5 260.0h0 M337.9 267.5h0 M338.3 273.0h0 M338.8 264.8h0 M339.2 252.5h0 M339.7 237.1h0 M340.1 218.8h0 M340.5 202.1h0 M341.0 199.6h0 M341.4 192.8h0 M341.9 184.1h0 M342.3 175.9h0 M342.7 173.3h0 M343.2 186.2h0 M343.6 200.3h0 M344.0 191.3h0 M344.5 185.2h0 M344.9 182.2h0 M345.4 182.8h0 M345.8 188.1h0 M346.2 195.4h0 M346.7 201.8h0 M347.1 196.3h0 M347.6 189.2h0 M348.0 226.0h0 M348.4 212.4h0 M348.9 194.3h0 M349.3 192.9h0 M349.8 205.9h0 M350.2 195.5h0 M350.6 184.0h0 M351.1 178.3h0 M351.5 175.3h0 M352.0 182.3h0 M352.4 191.7h0 M352.8 198.2h0 M353.3 185.2h0 M353.7 169.7h0 M354.1 156.9h0 M354.6 157.3h0 M355.0 167.8h0 M355.5 183.7h0 M355.9 196.9h0 M356.3 186.8h0 M356.8 179.8h0 M357.2 171.4h0 M357.7 216.0h0 M358.1 185.3h0 M358.5 176.6h0 M359.0 168.7h0 M359.4 145.6h0 M359.9 155.1h0 M360.3 161.2h0 M360.7 169.3h0 M361.2 181.5h0 M361.6 191.9h0 M362.1 198.6h0 M362.5 204.6h0 M362.9 211.3h0 M363.4 215.6h0 M363.8 219.7h0 M364.2 224.8h0 M364.7 229.1h0 M365.1 228.4h0 M365.6 228.9h0 M366.0 224.7h0 M366.4 218.6h0 M366.9 217.0h0 M367.3 218.4h0 M367.8 221.8h0 M368.2 224.4h0 M368.6 215.8h0 M369.1 208.2h0 M369.5 202.3h0 M370.0 199.3h0 M370.4 196.0h0 M370.8 213.2h0 M371.3 224.8h0 M371.7 223.0h0 M372.2 219.1h0 M372.6 217.2h0 M373.0 219.9h0 M373.5 225.1h0 M373.9 229.5h0 M374.3 234.2h0 M374.8 232.9h0 M375.2 230.1h0 M375.7 227.3h0 M376.1 228.6h0 M376.5 233.7h0 M377.0 237.3h0 M377.4 241.7h0 M377.9 239.6h0 M378.3 238.0h0 M378.7 242.4h0 M379.2 237.7h0 M379.6 242.4h0 M380.1 246.1h0 M380.5 248.5h0 M380.9 254.6h0 M381.4 256.0h0 M381.8 259.7h0 M382.3 263.5h0 M382.7 264.4h0 M383.1 269.6h0 M383.6 273.7h0 M384.0 277.9h0 M384.5 285.4h0 M384.9 293.1h0 M385.3 298.6h0 M385.8 300.9h0 M386.2 297.3h0 M386.6 302.3h0 M387.1 299.2h0 M387.5 301.5h0 M388.0 302.0h0 M388.4 305.8h0 M388.8 303.1h0 M389.3 309.6h0 M389.7 310.2h0 M390.2 310.7h0 M390.6 314.9h0 M391.0 311.9h0 M391.5 313.9h0 M391.9 308.9h0 M392.4 307.4h0 M392.8 309.9h0 M393.2 309.3h0 M393.7 309.4h0 M394.1 306.9h0 M394.6 302.0h0 M395.0 319.8h0 M395.4 312.9h0 M395.9 314.6h0 M396.3 311.9h0 M396.7 316.9h0 M397.2 316.7h0 M397.6 316.4h0 M398.1 316.9h0 M398.5 319.3h0 M398.9 318.3h0 M399.4 311.4h0 M399.8 310.4h0 M400.3 303.4h0 M400.7 305.9h0 M401.1 304.0h0 M401.6 299.0h0 M402.0 297.0h0 M402.5 313.2h0 M402.9 314.8h0 M403.3 314.3h0 M403.8 310.8h0 M404.2 317.7h0 M404.7 314.5h0 M405.1 314.1h0 M405.5 322.9h0 M406.0 315.7h0 M406.4 319.5h0 M406.8 323.4h0 M407.3 312.5h0 M407.7 322.4h0 M408.2 325.6h0 M408.6 322.8h0 M409.0 320.6h0 M409.5 326.2h0 M409.9 326.8h0 M410.4 330.3h0 M410.8 318.4h0 M411.2 328.1h0 M411.7 325.3h0 M412.1 330.9h0 M412.6 338.8h0 M413.0 331.3h0 M413.4 334.4h0 M413.9 332.6h0 M414.3 327.5h0 M414.8 333.2h0 M415.2 334.8h0 M415.6 334.7h0 M416.1 344.8h0 M416.5 339.7h0 M416.9 336.9h0 M417.4 339.4h0 M417.8 332.3h0 M418.3 341.4h0 M418.7 340.7h0 M419.1 339.5h0 M419.6 346.1h0 M420.0 342.8h0 M420.5 344.2h0 M420.9 343.2h0 M421.3 336.5h0 M421.8 343.4h0 M422.2 341.0h0 M422.7 342.9h0 M423.1 340.7h0 M423.5 340.5h0 M424.0 346.3h0 M424.4 343.1h0 M424.9 345.8h0 M425.3 342.8h0 M425.7 344.0h0 M426.2 344.2h0 M426.6 351.0h0 M427.0 345.4h0 M427.5 342.6h0 M427.9 345.1h0 M428.4 344.1h0 M428.8 343.6h0 M429.2 346.6h0 M429.7 343.8h0 M430.1 347.2h0 M430.6 341.9h0 M431.0 340.6h0 M431.4 344.3h0 M431.9 336.9h0 M432.3 343.6h0 M432.8 339.7h0 M433.2 339.4h0 M433.6 326.9h0 M434.1 315.1h0 M434.5 306.5h0 M435.0 300.3h0 M435.4 296.2h0 M435.8 293.8h0 M436.3 290.0h0 M436.7 294.1h0 M437.1 302.3h0 M437.6 301.3h0 M438.0 305.1h0 M438.5 310.1h0 M438.9 313.2h0 M439.3 320.5h0 M439.8 331.2h0 M440.2 338.0h0 M440.7 342.7h0 M441.1 341.8h0 M441.5 344.8h0 M442.0 345.1h0 M442.4 339.3h0 M442.9 346.9h0 M443.3 346.2h0 M443.7 345.0h0 M444.2 346.8h0 M444.6 343.5h0 M445.1 347.8h0 M445.5 346.6h0 M445.9 339.0h0 M446.4 344.7h0 M446.8 345.0h0 M447.3 347.1h0 M447.7 348.6h0 M448.1 348.6h0 M448.6 349.0h0 M449.0 347.2h0 M449.4 343.2h0 M449.9 337.8h0 M450.3 328.8h0 M450.8 324.2h0 M451.2 318.8h0 M451.6 312.8h0 M452.1 311.2h0 M452.5 307.1h0 M453.0 303.2h0 M453.4 309.6h0 M453.8 312.0h0 M454.3 307.8h0 M454.7 317.0h0 M455.2 309.6h0 M455.6 310.0h0 M456.0 307.0h0 M456.5 302.5h0 M456.9 309.5h0 M457.4 305.9h0 M457.8 299.1h0 M458.2 297.6h0 M458.7 295.2h0 M459.1 289.8h0 M459.5 287.1h0 M460.0 282.3h0 M460.4 283.0h0 M460.9 279.5h0 M461.3 277.1h0 M461.7 275.0h0 M462.2 279.5h0 M462.6 284.7h0 M463.1 285.7h0 M463.5 289.2h0 M463.9 294.0h0 M464.4 297.6h0 M464.8 298.3h0 M465.3 296.7h0 M465.7 299.7h0 M466.1 303.5h0 M466.6 304.1h0 M467.0 302.3h0 M467.5 307.4h0 M467.9 308.4h0 M468.3 312.9h0 M468.8 314.9h0 M469.2 314.3h0 M469.6 317.9h0 M470.1 316.3h0 M470.5 318.8h0 M471.0 321.1h0 M471.4 314.3h0 M471.8 316.1h0 M472.3 321.2h0 M472.7 322.2h0 M473.2 319.2h0 M473.6 316.0h0 M474.0 312.5h0 M474.5 312.9h0 M474.9 317.7h0 M475.4 321.1h0 M475.8 322.9h0 M476.2 320.5h0 M476.7 315.6h0 M477.1 309.2h0 M477.6 308.6h0 M478.0 312.1h0 M478.4 314.9h0 M478.9 319.3h0 M479.3 314.9h0 M479.7 310.6h0 M480.2 305.6h0 M480.6 305.6h0 M481.1 310.8h0 M481.5 314.4h0 M481.9 318.8h0 M482.4 313.5h0 M482.8 307.6h0 M483.3 303.1h0 M483.7 302.6h0 M484.1 306.8h0 M484.6 311.2h0 M485.0 317.7h0 M485.5 311.8h0 M485.9 304.8h0 M486.3 301.3h0 M486.8 300.4h0 M487.2 303.6h0 M487.7 309.3h0 M488.1 314.2h0 M488.5 307.9h0 M489.0 303.0h0 M489.4 296.5h0 M489.9 297.6h0 M490.3 303.0h0 M490.7 307.4h0 M491.2 313.0h0 M491.6 308.6h0 M492.0 305.0h0 M492.5 299.1h0 M492.9 300.4h0 M493.4 304.4h0 M493.8 311.0h0 M494.2 314.0h0 M494.7 309.9h0 M495.1 306.3h0 M495.6 303.9h0 M496.0 304.7h0 M496.4 308.1h0 M496.9 312.2h0 M497.3 318.8h0 M497.8 313.8h0 M498.2 308.5h0 M498.6 306.2h0 M499.1 310.7h0 M499.5 315.8h0 M500.0 314.5h0 M500.4 320.5h0 M500.8 321.3h0 M501.3 323.7h0 M501.7 324.9h0 M502.1 329.4h0 M502.6 329.3h0 M503.0 332.4h0 M503.5 333.1h0 M503.9 338.3h0 M504.3 339.3h0 M504.8 340.3h0 M505.2 339.9h0 M505.7 342.6h0 M506.1 341.0h0 M506.5 341.5h0 M507.0 343.0h0 M507.4 341.1h0 M507.9 341.2h0 M508.3 343.4h0 M508.7 343.3h0 M509.2 343.1h0 M509.6 341.9h0 M510.1 343.2h0 M510.5 341.4h0 M510.9 344.0h0 M511.4 340.1h0 M511.8 341.4h0 M512.2 340.1h0 M512.7 342.1h0 M513.1 341.5h0 M513.6 342.3h0 M514.0 332.7h0 M514.4 326.9h0 M514.9 311.0h0 M515.3 320.3h0 M515.8 328.5h0 M516.2 333.1h0 M516.6 337.3h0 M517.1 339.7h0 M517.5 340.8h0 M518.0 341.9h0 M518.4 340.1h0 M518.8 336.8h0 M519.3 333.9h0 M519.7 328.3h0 M520.2 330.7h0 M520.6 333.0h0 M521.0 333.2h0 M521.5 339.7h0 M521.9 333.5h0 M522.3 331.8h0 M522.8 330.8h0 M523.2 324.9h0 M523.7 330.5h0 M524.1 330.9h0 M524.5 328.6h0 M525.0 327.3h0 M525.4 329.1h0 M525.9 333.1h0 M526.3 330.9h0 M526.7 323.3h0 M527.2 327.5h0 M527.6 326.7h0 M528.1 329.4h0 M528.5 332.8h0 M528.9 328.8h0 M529.4 325.0h0 M529.8 327.6h0 M530.3 317.2h0 M530.7 325.7h0 M531.1 327.4h0 M531.6 324.8h0 M532.0 326.6h0 M532.4 321.3h0 M532.9 320.0h0 M533.3 324.7h0 M533.8 314.6h0 M534.2 322.8h0 M534.6 326.4h0 M535.1 321.9h0 M535.5 329.5h0 M536.0 320.6h0 M536.4 322.6h0 M536.8 320.4h0 M537.3 324.6h0 M537.7 320.9h0 M538.2 319.4h0 M538.6 321.5h0 M539.0 325.7h0 M539.5 318.8h0 M539.9 323.0h0 M540.4 317.3h0 M540.8 310.7h0 M541.2 315.5h0 M541.7 319.0h0 M542.1 321.0h0 M542.5 327.4h0 M543.0 318.3h0 M543.4 317.0h0 M543.9 318.4h0 M544.3 309.0h0 M544.7 317.4h0 M545.2 315.9h0 M545.6 317.1h0 M546.1 324.3h0 M546.5 316.0h0 M546.9 316.8h0 M547.4 314.4h0 M547.8 307.9h0 M548.3 313.7h0 M548.7 317.2h0 M549.1 311.7h0 M549.6 315.6h0 M550.0 317.5h0 M550.5 313.5h0 M550.9 312.6h0 M551.3 308.2h0 M551.8 312.0h0 M552.2 315.2h0 M552.7 318.2h0 M553.1 318.9h0 M553.5 316.9h0 M554.0 316.3h0 M554.4 313.4h0 M554.8 315.6h0 M555.3 312.7h0 M555.7 315.6h0 M556.2 316.4h0 M556.6 324.1h0 M557.0 314.7h0 M557.5 312.7h0 M557.9 312.3h0 M558.4 310.3h0 M558.8 318.5h0 M559.2 318.4h0 M559.7 311.8h0 M560.1 314.5h0 M560.6 314.6h0 M561.0 313.8h0 M561.4 319.0h0 M561.9 309.4h0 M562.3 314.4h0 M562.8 318.4h0 M563.2 318.8h0 M563.6 322.0h0 M564.1 311.3h0 M564.5 317.5h0 M564.9 317.7h0 M565.4 313.1h0 M565.8 317.9h0 M566.3 317.6h0 M566.7 313.4h0 M567.1 318.9h0 M567.6 311.2h0 M568.0 300.0h0 M568.5 309.2h0 M568.9 312.5h0 M569.3 316.1h0 M569.8 318.0h0 M570.2 320.9h0 M570.7 324.1h0 M571.1 324.3h0 M571.5 317.7h0 M572.0 311.8h0 M572.4 308.9h0 M572.9 311.6h0 M573.3 314.1h0 M573.7 310.9h0 M574.2 309.8h0 M574.6 314.7h0 M575.0 309.8h0 M575.5 313.7h0 M575.9 304.3h0 M576.4 315.1h0 M576.8 309.8h0 M577.2 309.0h0 M577.7 316.4h0 M578.1 312.0h0 M578.6 309.4h0 M579.0 309.1h0 M579.4 308.3h0 M579.9 303.0h0 M580.3 309.0h0 M580.8 312.1h0 M581.2 316.0h0 M581.6 307.9h0 M582.1 313.3h0 M582.5 311.8h0 M583.0 304.5h0 M583.4 310.5h0 M583.8 307.4h0 M584.3 308.4h0 M584.7 317.0h0 M585.1 309.6h0 M585.6 312.2h0 M586.0 312.7h0 M586.5 305.1h0 M586.9 311.3h0 M587.3 308.9h0 M587.8 311.0h0 M588.2 314.6h0 M588.7 308.7h0 M589.1 307.4h0 M589.5 312.5h0 M590.0 302.8h0 M590.4 306.4h0 M590.9 307.8h0 M591.3 309.4h0 M591.7 316.1h0 M592.2 308.3h0 M592.6 311.7h0 M593.1 309.4h0 M593.5 304.0h0 M593.9 307.7h0 M594.4 308.7h0 M594.8 300.0h0 M595.2 304.1h0 M595.7 310.3h0 M596.1 317.4h0 M596.6 317.4h0 M597.0 310.2h0 M597.4 312.4h0 M597.9 314.6h0 M598.3 308.2h0 M598.8 309.5h0 M599.2 310.5h0 M599.6 310.6h0 M600.1 306.5h0 M600.5 298.7h0 M601.0 306.4h0 M601.4 302.7h0 M601.8 301.7h0 M602.3 313.7h0 M602.7 303.0h0 M603.2 297.0h0 M603.6 302.7h0 M604.0 298.2h0 M604.5 301.6h0 M604.9 300.7h0 M605.4 305.0h0 M605.8 309.0h0 M606.2 302.4h0 M606.7 301.2h0 M607.1 305.5h0 M607.5 294.5h0 M608.0 304.2h0 M608.4 303.4h0 M608.9 302.3h0 M609.3 307.4h0 M609.7 303.0h0 M610.2 298.1h0 M610.6 297.2h0 M611.1 293.4h0 M611.5 300.9h0 M611.9 295.6h0 M612.4 298.5h0 M612.8 304.0h0 M613.3 294.1h0 M613.7 300.2h0 M614.1 299.7h0 M614.6 298.1h0 M615.0 297.2h0 M615.5 294.4h0 M615.9 292.6h0 M616.3 297.9h0 M616.8 300.1h0 M617.2 294.0h0 M617.6 291.2h0 M618.1 287.0h0 M618.5 294.3h0 M619.0 297.5h0 M619.4 300.0h0 M619.8 305.0h0 M620.3 300.1h0 M620.7 293.1h0 M621.2 293.9h0 M621.6 287.8h0 M622.0 297.9h0 M622.5 290.5h0 M622.9 295.5h0 M623.4 295.9h0 M623.8 297.9h0 M624.2 293.5h0 M624.7 291.3h0 M625.1 287.3h0 M625.6 289.4h0 M626.0 296.8h0 M626.4 287.6h0 M626.9 298.1h0 M627.3 286.5h0 M627.7 294.7h0 M628.2 290.1h0 M628.6 281.3h0 M629.1 289.1h0 M629.5 288.9h0 M629.9 292.3h0 M630.4 285.3h0 M630.8 287.6h0 M631.3 286.5h0 M631.7 283.8h0 M632.1 280.0h0 M632.6 291.8h0 M633.0 292.4h0 M633.5 288.9h0 M633.9 283.5h0 M634.3 288.7h0 M634.8 288.2h0 M635.2 287.4h0 M635.7 280.9h0 M636.1 291.0h0 M636.5 284.5h0 M637.0 286.9h0 M637.4 295.4h0 M637.8 288.0h0 M638.3 287.5h0 M638.7 286.2h0 M639.2 281.5h0 M639.6 287.5h0 M640.0 290.1h0 M640.5 283.0h0 M640.9 291.9h0 M641.4 286.1h0 M641.8 285.8h0 M642.2 284.9h0 M642.7 279.3h0 M643.1 280.2h0 M643.6 286.6h0 M644.0 284.8h0 M644.4 279.3h0 M644.9 284.0h0 M645.3 284.0h0 M645.8 277.4h0 M646.2 279.4h0 M646.6 275.0h0 M647.1 273.3h0 M647.5 274.6h0 M648.0 280.3h0 M648.4 271.2h0 M648.8 270.5h0 M649.3 270.4h0 M649.7 268.4h0 M650.1 270.3h0 M650.6 269.0h0 M651.0 268.7h0 M651.5 273.6h0 M651.9 265.2h0 M652.3 267.2h0 M652.8 261.2h0 M653.2 259.7h0 M653.7 259.2h0 M654.1 258.0h0 M654.5 264.6h0 M655.0 271.3h0 M655.4 267.8h0 M655.9 265.1h0 M656.3 270.5h0 M656.7 263.9h0 M657.2 271.1h0 M657.6 268.2h0 M658.1 271.4h0 M658.5 278.5h0 M658.9 269.1h0 M659.4 270.6h0 M659.8 276.4h0 M660.2 270.3h0 M660.7 269.7h0 M661.1 267.0h0 M661.6 272.6h0 M662.0 274.7h0 M662.4 276.7h0 M662.9 275.1h0 M663.3 279.5h0 M663.8 273.0h0 M664.2 276.5h0 M664.6 278.5h0 M665.1 277.3h0 M665.5 284.9h0 M666.0 275.7h0 M666.4 283.1h0 M666.8 277.6h0 M667.3 275.7h0 M667.7 281.2h0 M668.2 282.2h0 M668.6 285.4h0 M669.0 279.4h0 M669.5 285.1h0 M669.9 285.7h0 M670.3 285.2h0 M670.8 279.8h0 M671.2 289.3h0 M671.7 292.0h0 M672.1 287.9h0 M672.5 291.7h0 M673.0 284.7h0 M673.4 285.0h0 M673.9 284.3h0 M674.3 277.6h0 M674.7 284.3h0 M675.2 283.3h0 M675.6 282.4h0 M676.1 280.5h0 M676.5 271.0h0 M676.9 283.2h0 M677.4 284.5h0 M677.8 285.9h0 M678.3 290.1h0 M678.7 291.6h0 M679.1 289.8h0 M679.6 290.7h0 M680.0 288.2h0 M680.4 286.3h0 M680.9 287.0h0 M681.3 276.8h0 M681.8 281.7h0 M682.2 279.4h0 M682.6 281.4h0 M683.1 289.0h0 M683.5 280.6h0 M684.0 286.2h0 M684.4 280.4h0 M684.8 273.7h0 M685.3 279.2h0 M685.7 286.0h0 M686.2 279.5h0 M686.6 289.7h0 M687.0 283.6h0 M687.5 279.9h0 M687.9 284.4h0 M688.4 275.6h0 M688.8 280.7h0 M689.2 281.6h0 M689.7 283.9h0 M690.1 290.4h0 M690.5 281.9h0 M691.0 280.4h0 M691.4 285.7h0 M691.9 281.9h0 M692.3 288.2h0 M692.7 283.3h0 M693.2 284.3h0 M693.6 284.4h0 M694.1 287.7h0 M694.5 289.5h0 M694.9 290.5h0 M695.4 283.8h0 M695.8 288.2h0 M696.3 292.7h0 M696.7 289.6h0 M697.1 295.2h0 M697.6 290.3h0 M698.0 295.7h0 M698.5 289.3h0 M698.9 286.8h0 M699.3 292.8h0 M699.8 292.4h0 M700.2 291.9h0 M700.6 299.7h0 M701.1 295.8h0 M701.5 294.0h0 M702.0 295.8h0 M702.4 292.7h0 M702.8 300.8h0 M703.3 294.9h0 M703.7 296.9h0 M704.2 299.3h0 M704.6 298.6h0 M705.0 300.0h0 M705.5 303.6h0 M705.9 294.2h0 M706.4 301.8h0 M706.8 303.3h0 M707.2 301.0h0 M707.7 307.9h0 M708.1 301.2h0 M708.6 298.4h0 M709.0 299.6h0 M709.4 295.2h0 M709.9 300.8h0 M710.3 303.2h0 M710.8 300.0h0 M711.2 306.7h0 M711.6 297.6h0 M712.1 301.4h0 M712.5 297.7h0 M712.9 290.0h0 M713.4 297.7h0 M713.8 298.9h0 M714.3 302.5h0 M714.7 308.0h0 M715.1 302.6h0 M715.6 298.0h0 M716.0 305.3h0 M716.5 296.4h0 M716.9 305.5h0 M717.3 305.2h0 M717.8 303.9h0 M718.2 307.6h0 M718.7 298.8h0 M719.1 306.1h0 M719.5 306.0h0 M720.0 299.0h0 M720.4 305.7h0 M720.9 299.5h0 M721.3 301.3h0 M721.7 309.0h0 M722.2 308.3h0 M722.6 307.7h0 M723.0 304.9h0 M723.5 299.5h0 M723.9 307.3h0 M724.4 308.1h0 M724.8 304.1h0 M725.2 312.7h0 M725.7 306.7h0 M726.1 311.0h0 M726.6 309.9h0 M727.0 305.3h0" fill="none" stroke="#ff0000" stroke-width="3.0" stroke-linecap="round"/></g>
<rect x="94.6" y="34.4" width="632.4" height="348.5" fill="none" stroke="#000" stroke-width="1.2"/>
<text x="72.11" y="407.50" textLength="44.14" lengthAdjust="spacingAndGlyphs" fill="#000" font-size="16.0" font-weight="bold" font-family="Liberation Sans, Arial, Helvetica, sans-serif" xml:space="preserve">00:00</text>
<text x="151.11" y="407.50" textLength="44.14" lengthAdjust="spacingAndGlyphs" fill="#000" font-size="16.0" font-weight="bold" font-family="Liberation Sans, Arial, Helvetica, sans-serif" xml:space="preserve">03:00</text>
<text x="230.11" y="407.50" textLength="44.14" lengthAdjust="spacingAndGlyphs" fill="#000" font-size="16.0" font-weight="bold" font-family="Liberation Sans, Arial, Helvetica, sans-serif" xml:space="preserve">06:00</text>
<text x="309.11" y="407.50" textLength="44.14" lengthAdjust="spacingAndGlyphs" fill="#000" font-size="16.0" font-weight="bold" font-family="Liberation Sans, Arial, Helvetica, sans-serif" xml:space="preserve">09:00</text>
<text x="387.76" y="407.50" textLength="44.50" lengthAdjust="spacingAndGlyphs" fill="#000" font-size="16.0" font-weight="bold" font-family="Liberation Sans, Arial, Helvetica, sans-serif" xml:space="preserve">12:00</text>
<text x="466.76" y="407.50" textLength="44.50" lengthAdjust="spacingAndGlyphs" fill="#000" font-size="16.0" font-weight="bold" font-family="Liberation Sans, Arial, Helvetica, sans-serif" xml:space="preserve">15:00</text>
<text x="545.76" y="407.50" textLength="44.50" lengthAdjust="spacingAndGlyphs" fill="#000" font-size="16.0" font-weight="bold" font-family="Liberation Sans, Arial, Helvetica, sans-serif" xml:space="preserve">18:00</text>
<text x="625.28" y="407.50" textLength="43.96" lengthAdjust="spacingAndGlyphs" fill="#000" font-size="16.0" font-weight="bold" font-family="Liberation Sans, Arial, Helvetica, sans-serif" xml:space="preserve">21:00</text>
<text x="704.11" y="407.50" textLength="44.14" lengthAdjust="spacingAndGlyphs" fill="#000" font-size="16.0" font-weight="bold" font-family="Liberation Sans, Arial, Helvetica, sans-serif" xml:space="preserve">00:00</text>
<text x="371.33" y="427.20" textLength="88.61" lengthAdjust="spacingAndGlyphs" fill="#000" font-size="16.0" font-weight="bold" font-family="Liberation Sans, Arial, Helvetica, sans-serif" xml:space="preserve">Time (JST)</text>
<text x="637.48" y="427.20" textLength="88.81" lengthAdjust="spacingAndGlyphs" fill="#000" font-size="16.0" font-weight="bold" font-family="Liberation Sans, Arial, Helvetica, sans-serif" xml:space="preserve">2008-01-30</text>
<text x="53.96" y="390.30" textLength="31.08" lengthAdjust="spacingAndGlyphs" fill="#ff0000" font-size="16.0" font-weight="bold" font-family="Liberation Sans, Arial, Helvetica, sans-serif" xml:space="preserve">0.00</text>
<text x="53.96" y="320.60" textLength="30.91" lengthAdjust="spacingAndGlyphs" fill="#ff0000" font-size="16.0" font-weight="bold" font-family="Liberation Sans, Arial, Helvetica, sans-serif" xml:space="preserve">0.02</text>
<text x="53.97" y="250.90" textLength="30.43" lengthAdjust="spacingAndGlyphs" fill="#ff0000" font-size="16.0" font-weight="bold" font-family="Liberation Sans, Arial, Helvetica, sans-serif" xml:space="preserve">0.04</text>
<text x="53.96" y="181.20" textLength="30.91" lengthAdjust="spacingAndGlyphs" fill="#ff0000" font-size="16.0" font-weight="bold" font-family="Liberation Sans, Arial, Helvetica, sans-serif" xml:space="preserve">0.06</text>
<text x="53.97" y="111.50" textLength="30.75" lengthAdjust="spacingAndGlyphs" fill="#ff0000" font-size="16.0" font-weight="bold" font-family="Liberation Sans, Arial, Helvetica, sans-serif" xml:space="preserve">0.08</text>
<text x="53.96" y="41.80" textLength="31.08" lengthAdjust="spacingAndGlyphs" fill="#ff0000" font-size="16.0" font-weight="bold" font-family="Liberation Sans, Arial, Helvetica, sans-serif" xml:space="preserve">0.10</text>
<text x="7.02" y="390.30" textLength="26.19" lengthAdjust="spacingAndGlyphs" fill="#d4cf87" stroke="#d4cf87" stroke-width="0.45" font-size="16.0" font-weight="normal" font-family="Liberation Sans, Arial, Helvetica, sans-serif" xml:space="preserve">980</text>
<text x="7.02" y="320.60" textLength="26.19" lengthAdjust="spacingAndGlyphs" fill="#d4cf87" stroke="#d4cf87" stroke-width="0.45" font-size="16.0" font-weight="normal" font-family="Liberation Sans, Arial, Helvetica, sans-serif" xml:space="preserve">990</text>
<text x="1.80" y="250.90" textLength="36.23" lengthAdjust="spacingAndGlyphs" fill="#d4cf87" stroke="#d4cf87" stroke-width="0.45" font-size="16.0" font-weight="normal" font-family="Liberation Sans, Arial, Helvetica, sans-serif" xml:space="preserve">1000</text>
<text x="1.80" y="181.20" textLength="36.23" lengthAdjust="spacingAndGlyphs" fill="#d4cf87" stroke="#d4cf87" stroke-width="0.45" font-size="16.0" font-weight="normal" font-family="Liberation Sans, Arial, Helvetica, sans-serif" xml:space="preserve">1010</text>
<text x="1.80" y="111.50" textLength="36.23" lengthAdjust="spacingAndGlyphs" fill="#d4cf87" stroke="#d4cf87" stroke-width="0.45" font-size="16.0" font-weight="normal" font-family="Liberation Sans, Arial, Helvetica, sans-serif" xml:space="preserve">1020</text>
<text x="1.80" y="41.80" textLength="36.23" lengthAdjust="spacingAndGlyphs" fill="#d4cf87" stroke="#d4cf87" stroke-width="0.45" font-size="16.0" font-weight="normal" font-family="Liberation Sans, Arial, Helvetica, sans-serif" xml:space="preserve">1030</text>
<text x="745.89" y="390.30" textLength="8.52" lengthAdjust="spacingAndGlyphs" fill="#0000ff" font-size="16.0" font-weight="bold" font-family="Liberation Sans, Arial, Helvetica, sans-serif" xml:space="preserve">0</text>
<text x="741.00" y="320.60" textLength="18.40" lengthAdjust="spacingAndGlyphs" fill="#0000ff" font-size="16.0" font-weight="bold" font-family="Liberation Sans, Arial, Helvetica, sans-serif" xml:space="preserve">20</text>
<text x="741.17" y="250.90" textLength="18.22" lengthAdjust="spacingAndGlyphs" fill="#0000ff" font-size="16.0" font-weight="bold" font-family="Liberation Sans, Arial, Helvetica, sans-serif" xml:space="preserve">40</text>
<text x="740.83" y="181.20" textLength="18.58" lengthAdjust="spacingAndGlyphs" fill="#0000ff" font-size="16.0" font-weight="bold" font-family="Liberation Sans, Arial, Helvetica, sans-serif" xml:space="preserve">60</text>
<text x="741.00" y="111.50" textLength="18.40" lengthAdjust="spacingAndGlyphs" fill="#0000ff" font-size="16.0" font-weight="bold" font-family="Liberation Sans, Arial, Helvetica, sans-serif" xml:space="preserve">80</text>
<text x="736.75" y="41.80" textLength="26.36" lengthAdjust="spacingAndGlyphs" fill="#0000ff" font-size="16.0" font-weight="bold" font-family="Liberation Sans, Arial, Helvetica, sans-serif" xml:space="preserve">100</text>
<text x="779.77" y="390.30" textLength="17.08" lengthAdjust="spacingAndGlyphs" fill="#cccccc" stroke="#cccccc" stroke-width="0.45" font-size="16.0" font-weight="normal" font-family="Liberation Sans, Arial, Helvetica, sans-serif" xml:space="preserve">10</text>
<text x="779.77" y="320.60" textLength="17.08" lengthAdjust="spacingAndGlyphs" fill="#cccccc" stroke="#cccccc" stroke-width="0.45" font-size="16.0" font-weight="normal" font-family="Liberation Sans, Arial, Helvetica, sans-serif" xml:space="preserve">15</text>
<text x="779.51" y="250.90" textLength="17.67" lengthAdjust="spacingAndGlyphs" fill="#cccccc" stroke="#cccccc" stroke-width="0.45" font-size="16.0" font-weight="normal" font-family="Liberation Sans, Arial, Helvetica, sans-serif" xml:space="preserve">20</text>
<text x="779.51" y="181.20" textLength="17.67" lengthAdjust="spacingAndGlyphs" fill="#cccccc" stroke="#cccccc" stroke-width="0.45" font-size="16.0" font-weight="normal" font-family="Liberation Sans, Arial, Helvetica, sans-serif" xml:space="preserve">25</text>
<text x="779.67" y="111.50" textLength="17.50" lengthAdjust="spacingAndGlyphs" fill="#cccccc" stroke="#cccccc" stroke-width="0.45" font-size="16.0" font-weight="normal" font-family="Liberation Sans, Arial, Helvetica, sans-serif" xml:space="preserve">30</text>
<text x="779.67" y="41.80" textLength="17.50" lengthAdjust="spacingAndGlyphs" fill="#cccccc" stroke="#cccccc" stroke-width="0.45" font-size="16.0" font-weight="normal" font-family="Liberation Sans, Arial, Helvetica, sans-serif" xml:space="preserve">35</text>
<text x="81.09" y="22.90" textLength="7.68" lengthAdjust="spacingAndGlyphs" fill="#ff0000" font-size="17.2" font-weight="bold" font-family="Liberation Sans, Arial, Helvetica, sans-serif" xml:space="preserve">–</text>
<text x="93.83" y="22.90" textLength="195.94" lengthAdjust="spacingAndGlyphs" fill="#ff0000" font-size="17.2" font-weight="bold" font-family="Liberation Sans, Arial, Helvetica, sans-serif" xml:space="preserve">Scattering Coefficient (km</text>
<text x="289.24" y="15.40" textLength="8.02" lengthAdjust="spacingAndGlyphs" fill="#ff0000" font-size="10.5" font-weight="bold" font-family="Liberation Sans, Arial, Helvetica, sans-serif" xml:space="preserve">-1</text>
<text x="298.20" y="22.90" textLength="5.71" lengthAdjust="spacingAndGlyphs" fill="#ff0000" font-size="17.2" font-weight="bold" font-family="Liberation Sans, Arial, Helvetica, sans-serif" xml:space="preserve">)</text>
<text x="306.60" y="22.90" textLength="7.34" lengthAdjust="spacingAndGlyphs" fill="#0000ff" font-size="17.2" font-weight="bold" font-family="Liberation Sans, Arial, Helvetica, sans-serif" xml:space="preserve">–</text>
<text x="319.89" y="22.90" textLength="157.34" lengthAdjust="spacingAndGlyphs" fill="#0000ff" font-size="17.2" font-weight="bold" font-family="Liberation Sans, Arial, Helvetica, sans-serif" xml:space="preserve">Relative Humidity(%)</text>
<text x="481.11" y="22.90" textLength="7.23" lengthAdjust="spacingAndGlyphs" fill="#d4cf87" font-size="17.2" font-weight="bold" font-family="Liberation Sans, Arial, Helvetica, sans-serif" xml:space="preserve">–</text>
<text x="494.40" y="22.90" textLength="111.37" lengthAdjust="spacingAndGlyphs" fill="#d4cf87" font-size="17.2" font-weight="bold" font-family="Liberation Sans, Arial, Helvetica, sans-serif" xml:space="preserve">Pressure (hPa)</text>
<text x="611.00" y="22.90" textLength="5.96" lengthAdjust="spacingAndGlyphs" fill="#cccccc" stroke="#cccccc" stroke-width="0.45" font-size="17.2" font-weight="normal" font-family="Liberation Sans, Arial, Helvetica, sans-serif" xml:space="preserve">–</text>
<text x="622.66" y="22.90" textLength="104.72" lengthAdjust="spacingAndGlyphs" fill="#cccccc" stroke="#cccccc" stroke-width="0.45" font-size="17.2" font-weight="normal" font-family="Liberation Sans, Arial, Helvetica, sans-serif" xml:space="preserve">Temperature (</text>
<text x="730.20" y="22.90" textLength="16.84" lengthAdjust="spacingAndGlyphs" fill="#cccccc" stroke="#cccccc" stroke-width="0.45" font-size="17.2" font-weight="normal" font-family="Liberation Sans, Arial, Helvetica, sans-serif" xml:space="preserve">C)</text>
<text x="727.1" y="9.0" fill="#cccccc" font-size="7.5" font-family="Liberation Sans, Arial, Helvetica, sans-serif">°</text>
</svg></body></html>
